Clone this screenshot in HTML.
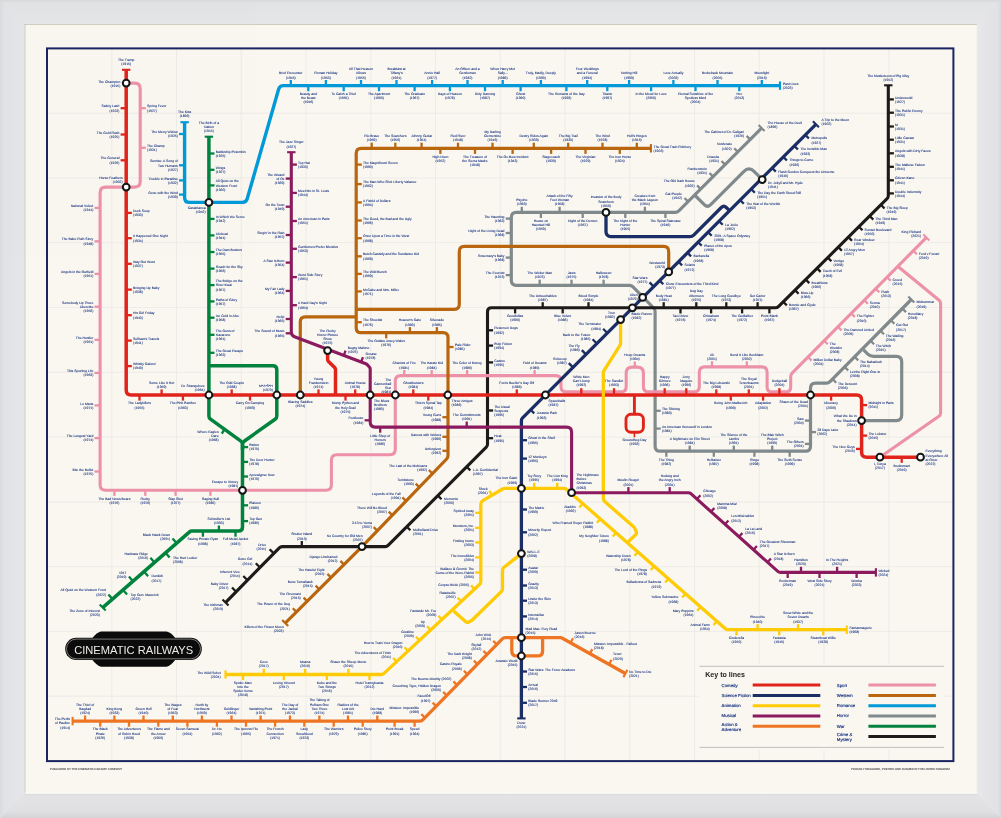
<!DOCTYPE html>
<html lang="en"><head><meta charset="utf-8"><title>Cinematic Railways</title>
<style>
html,body{margin:0;padding:0;}
body{width:1001px;height:818px;position:relative;overflow:hidden;background:#dfe1e4;font-family:"Liberation Sans",sans-serif;}
.foot{position:absolute;top:766.5px;font-size:2.85px;line-height:4px;color:#222;letter-spacing:0;white-space:nowrap;}
</style></head><body>
<svg width="1001" height="818" viewBox="0 0 1001 818" style="position:absolute;left:0;top:0;opacity:0.999;will-change:transform">
<defs><linearGradient id="ft" x1="0" y1="0" x2="0" y2="1"><stop offset="0" stop-color="#d6d7d9"/><stop offset="0.12" stop-color="#e2e3e5"/><stop offset="1" stop-color="#e5e6e8"/></linearGradient><linearGradient id="fb" x1="0" y1="0" x2="0" y2="1"><stop offset="0" stop-color="#dbdbdd"/><stop offset="0.1" stop-color="#e3e3e5"/><stop offset="0.75" stop-color="#e0e0e2"/><stop offset="1" stop-color="#d3d3d6"/></linearGradient><linearGradient id="fl" x1="0" y1="0" x2="1" y2="0"><stop offset="0" stop-color="#dadbde"/><stop offset="0.2" stop-color="#e2e3e6"/><stop offset="1" stop-color="#e5e6e9"/></linearGradient><linearGradient id="fr" x1="0" y1="0" x2="1" y2="0"><stop offset="0" stop-color="#e9e9eb"/><stop offset="0.35" stop-color="#e4e4e6"/><stop offset="0.85" stop-color="#e2e2e4"/><stop offset="1" stop-color="#dadadc"/></linearGradient></defs>
<polygon points="0,0 1001,0 976.9,24 24.5,24" fill="url(#ft)"/>
<polygon points="0,818 1001,818 976.9,793.6 24.5,793.6" fill="url(#fb)"/>
<polygon points="0,0 24.5,24 24.5,793.6 0,818" fill="url(#fl)"/>
<polygon points="1001,0 976.9,24 976.9,793.6 1001,818" fill="url(#fr)"/>
<rect x="24.5" y="24" width="952.4" height="769.6" fill="#f9f7f0"/>
<path d="M24.5 24.5H976.9" stroke="#c4bfb1" stroke-width="1" fill="none" opacity="0.8"/>
<path d="M25 24V793.6" stroke="#bdb9ae" stroke-width="1" fill="none" opacity="0.7"/>
<path d="M24.5 793.1H976.9" stroke="#fdfcf8" stroke-width="1" fill="none" opacity="0.8"/>
<path d="M111.8 48.4V761M176.5 48.4V761M241.2 48.4V761M306 48.4V761M370.8 48.4V761M435.5 48.4V761M500.2 48.4V761M565 48.4V761M629.8 48.4V761M694.5 48.4V761M759.2 48.4V761M824 48.4V761M888.8 48.4V761M47 113.2H953.5M47 178H953.5M47 242.7H953.5M47 307.5H953.5M47 372.3H953.5M47 437.1H953.5M47 501.9H953.5M47 566.7H953.5M47 631.4H953.5M47 696.2H953.5" stroke="#ebe9e3" stroke-width="0.8" fill="none"/>
<rect x="47" y="48.4" width="906.4" height="712.7" fill="none" stroke="#1b2460" stroke-width="2"/>
<g fill="none" stroke-linecap="butt" stroke-linejoin="round">
<path d="M761.6 128.1L678.8 210.9Q677.3 212.4 675.2 212.4L516.3 212.4Q511.3 212.4 511.3 217.4L511.3 280.3Q511.3 285.3 516.3 285.3L629.4 285.3Q631.5 285.3 633 286.8L653.7 308Q655.1 309.5 655.1 311.5L655.1 446.2Q655.1 451.2 660.1 451.2L805.5 451.2Q810.5 451.2 810.5 446.2L810.5 388.2Q810.5 383.2 815.5 383.2L826.4 383.2Q828.5 383.2 830 381.7L911.3 299.5" stroke="#80898c" stroke-width="3.2"/>
<path d="M694.6 195L704.3 204.7Q707.5 207.9 710.7 204.7L743.7 171.6Q749 166.3 754.3 171.6L762.1 179.4" stroke="#80898c" stroke-width="3.2"/>
<path d="M863.6 349.9L867.8 354.1Q870.1 356.4 873.4 356.4L896.2 356.4Q901.7 356.4 901.7 361.9L901.7 415.1Q901.7 420.6 896.2 420.6L861.6 420.6" stroke="#80898c" stroke-width="3.2"/>
<path d="M888.3 85.1L888.3 195.8Q888.3 197.5 887.1 198.7L778.4 306.6Q777.2 307.8 775.6 307.8L491.5 307.8Q487.5 307.8 487.5 311.8L487.5 444.3Q487.5 446 486.3 447.2L388.1 545.4Q386.9 546.6 385.2 546.6L282.2 546.6Q280.5 546.6 279.3 547.8L225.5 602.6" stroke="#1c1b1a" stroke-width="3.1"/>
<path d="M126.2 83.1L134.7 83.1Q140.2 83.1 140.2 88.6L140.2 181.6Q140.2 187.1 134.7 187.1L105.6 187.1Q100.1 187.1 100.1 192.6L100.1 484.8Q100.1 490.3 105.6 490.3L325.9 490.3Q331.4 490.3 331.4 484.8L331.4 460.2Q331.4 454.7 336.9 454.7L389.8 454.7Q395.3 454.7 395.3 449.2L395.3 381.1Q395.3 375.6 400.8 375.6L555.5 375.6Q561 375.6 561 381.1L561 386.4Q561 391.9 566.5 391.9L620.7 391.9Q626.2 391.9 626.2 386.4L626.2 373.1Q626.2 367.1 632.2 367.1L637.4 367.1Q643.4 367.1 643.4 373.1L643.4 386.4Q643.4 391.9 648.9 391.9L693.8 391.9Q699.3 391.9 699.3 386.4L699.3 372.4Q699.3 366.9 704.8 366.9L761.6 366.9Q767.1 366.9 767.1 372.4L767.1 386.9Q767.1 391.9 772.1 391.9L785.7 391.9Q790.7 391.9 790.7 386.9L790.7 376.8Q790.7 374.5 792.3 372.9L926.3 237.6" stroke="#ed91a8" stroke-width="3.1"/>
<path d="M898 266.5L939.1 300.3Q940.6 301.5 940.6 303.4L940.6 412.9Q940.6 415 938.9 416.2L879.9 457.2" stroke="#ed91a8" stroke-width="3.1"/>
<path d="M606 212.4L606 231.6Q606 236.6 611 236.6L690.1 236.6Q692.2 236.6 693.7 235.1L721.3 207.5Q723.8 205 726.3 207.5L729.5 210.7" stroke="#1b2e66" stroke-width="3.3"/>
<path d="M815.9 124.3L522.6 417.8Q521.4 419 521.4 420.7L521.4 718.4" stroke="#1b2e66" stroke-width="3.3"/>
<path d="M184.6 122L184.6 197.4Q184.6 202.4 189.6 202.4L242.4 202.4Q246.2 202.4 247.2 198.8L278.6 89.2Q279.6 85.6 283.4 85.6L780 85.6" stroke="#0099d8" stroke-width="3.4"/>
<path d="M208.9 136.5L208.9 416Q208.9 418 210.5 419.2L240.9 441.2Q242.5 442.4 242.5 444.4L242.5 527.1Q242.5 531.1 238.5 531.1L191.9 531.1Q190.4 531.1 189.3 532.1L102.7 607.6" stroke="#00833e" stroke-width="3.5"/>
<path d="M208.9 365.8L272.8 365.8Q276.8 365.8 276.8 369.8L276.8 415.9Q276.8 418 275.1 419.2L244.2 441.2Q242.5 442.4 242.5 444.5L242.5 450" stroke="#00833e" stroke-width="3.5"/>
<path d="M72.6 721.1L419.9 721.1Q421.6 721.1 422.8 719.9L502.3 638.9Q503.5 637.7 505.2 637.7L560.5 637.7Q561.5 637.7 562.4 638.2L625.4 673.5" stroke="#ee7524" stroke-width="3.3"/>
<path d="M511.8 637.7L511.8 650.9Q511.8 655.9 516.8 655.9L537.6 655.9Q542.6 655.9 542.6 650.9L542.6 637.7" stroke="#ee7524" stroke-width="3.3"/>
<path d="M650.9 148.3L361.2 148.3Q356.2 148.3 356.2 153.3L356.2 327.7Q356.2 332.7 361.2 332.7L443 332.7Q448 332.7 448 337.7L448 455.5Q448 457.5 446.6 459L362 546.6Q362 546.6 362 546.6L285.2 623.1" stroke="#b9660f" stroke-width="3.2"/>
<path d="M356.2 309.3L454.3 309.3Q459.3 309.3 459.3 304.3L459.3 251.4Q459.3 246.4 464.3 246.4L663.7 246.4Q668.7 246.4 668.7 251.4L668.7 271.9" stroke="#b9660f" stroke-width="3.2"/>
<path d="M356.2 316.8L305.3 316.8Q300.3 316.8 300.3 321.8L300.3 395" stroke="#b9660f" stroke-width="3.2"/>
<path d="M126.2 69.6L126.2 390Q126.2 395 131.2 395L856.6 395Q861.6 395 861.6 400L861.6 452.2Q861.6 457.2 866.6 457.2L920.5 457.2" stroke="#e0241c" stroke-width="3.5"/>
<path d="M327.6 350.6L327.6 359.2Q327.6 360.5 328.5 361.4L334.6 367.4Q335.5 368.3 335.5 369.6L335.5 395" stroke="#e0241c" stroke-width="3.5"/>
<path d="M634.4 395L634.4 414.3" stroke="#e0241c" stroke-width="2.9"/>
<rect x="626" y="414.3" width="17.4" height="17.9" rx="5" stroke="#e0241c" stroke-width="2.9"/>
<path d="M225.5 674.5L381.2 674.5Q382.8 674.5 384 673.4L479.5 584.5Q480.8 583.3 480.8 581.6L480.8 504.1Q480.8 501.8 482.8 500.6L502.6 489Q503.5 488.4 504.6 488.4L564 488.4Q565.5 488.4 566.6 489.4L725.4 628.7Q726.5 629.7 728 629.7L846.8 629.7" stroke="#ffcb05" stroke-width="3.3"/>
<path d="M620.6 319.5L620.6 343Q620.6 344.5 619.8 345.7L604.1 370.3Q603.3 371.5 603.3 373L603.3 498Q603.3 500.3 605 501.8L633.9 527Q634.5 527.5 634.8 528.3L636.2 531.6Q637 533.5 635.5 534.9L628.3 541.8" stroke="#ffcb05" stroke-width="3.3"/>
<path d="M521.4 553.6L504 567.3Q502.5 568.5 502.5 570.4L502.5 588.7Q502.5 590.4 501.3 591.6L472 620.2Q471.6 620.6 471.1 620.8L468.8 622Q467 623 465.5 621.6L453.6 611" stroke="#ffcb05" stroke-width="3.3"/>
<path d="M291.3 152L291.3 332Q291.3 335.5 294.5 336.7L365.8 363.7Q367 364.2 367.8 365.2L369.5 367.2Q370.2 368 370.2 369.1L370.2 422.1Q370.2 427.1 375.2 427.1L566.6 427.1Q571.6 427.1 571.6 432.1L571.6 492.7" stroke="#8b1a5e" stroke-width="3.1"/>
<path d="M571.6 492.7L688.3 492.7Q689.8 492.7 690.9 493.7L777.8 571.4Q778.9 572.4 780.4 572.4L875.9 572.4" stroke="#8b1a5e" stroke-width="3.1"/>
</g>
<g stroke-linecap="butt">
<path d="M130.4 69.8L122 69.8" stroke="#e0241c" stroke-width="2.1"/>
<path d="M188.8 122.2L180.4 122.2" stroke="#0099d8" stroke-width="2.1"/>
<path d="M780 81.4L780 89.8" stroke="#0099d8" stroke-width="2.1"/>
<path d="M213.1 136.7L204.7 136.7" stroke="#00833e" stroke-width="2.1"/>
<path d="M105.7 610.6L99.7 604.6" stroke="#00833e" stroke-width="2.1"/>
<path d="M295.5 152.2L287.1 152.2" stroke="#8b1a5e" stroke-width="2.1"/>
<path d="M875.9 568.2L875.9 576.6" stroke="#8b1a5e" stroke-width="2.1"/>
<path d="M650.9 144.1L650.9 152.5" stroke="#b9660f" stroke-width="2.1"/>
<path d="M288.2 626.1L282.2 620.1" stroke="#b9660f" stroke-width="2.1"/>
<path d="M758.6 125.1L764.6 131.1" stroke="#80898c" stroke-width="2.1"/>
<path d="M908.3 296.5L914.3 302.5" stroke="#80898c" stroke-width="2.1"/>
<path d="M812.9 121.3L818.9 127.3" stroke="#1b2e66" stroke-width="2.1"/>
<path d="M525.6 718.4L517.2 718.4" stroke="#1b2e66" stroke-width="2.1"/>
<path d="M892.5 85.3L884.1 85.3" stroke="#1c1b1a" stroke-width="2.1"/>
<path d="M228.5 605.6L222.5 599.6" stroke="#1c1b1a" stroke-width="2.1"/>
<path d="M225.5 670.3L225.5 678.7" stroke="#ffcb05" stroke-width="2.1"/>
<path d="M846.8 625.5L846.8 633.9" stroke="#ffcb05" stroke-width="2.1"/>
<path d="M72.6 716.9L72.6 725.3" stroke="#ee7524" stroke-width="2.1"/>
<path d="M627.4 669.8L623.4 677.2" stroke="#ee7524" stroke-width="2.1"/>
<path d="M923.3 234.6L929.3 240.6" stroke="#ed91a8" stroke-width="2.1"/>
<path d="M126.2 108.2L120.6 108.2" stroke="#e0241c" stroke-width="2.3"/>
<path d="M126.2 134.5L120.6 134.5" stroke="#e0241c" stroke-width="2.3"/>
<path d="M126.2 160.3L120.6 160.3" stroke="#e0241c" stroke-width="2.3"/>
<path d="M126.2 212.9L131.8 212.9" stroke="#e0241c" stroke-width="2.3"/>
<path d="M126.2 238.2L131.8 238.2" stroke="#e0241c" stroke-width="2.3"/>
<path d="M126.2 263.8L131.8 263.8" stroke="#e0241c" stroke-width="2.3"/>
<path d="M126.2 289.6L131.8 289.6" stroke="#e0241c" stroke-width="2.3"/>
<path d="M126.2 315.2L131.8 315.2" stroke="#e0241c" stroke-width="2.3"/>
<path d="M126.2 340.6L131.8 340.6" stroke="#e0241c" stroke-width="2.3"/>
<path d="M126.2 366.1L131.8 366.1" stroke="#e0241c" stroke-width="2.3"/>
<path d="M140.2 108.2L145.8 108.2" stroke="#ed91a8" stroke-width="2.3"/>
<path d="M140.2 147.8L145.8 147.8" stroke="#ed91a8" stroke-width="2.3"/>
<path d="M100.1 207.9L94.5 207.9" stroke="#ed91a8" stroke-width="2.3"/>
<path d="M100.1 241.3L94.5 241.3" stroke="#ed91a8" stroke-width="2.3"/>
<path d="M100.1 273.9L94.5 273.9" stroke="#ed91a8" stroke-width="2.3"/>
<path d="M100.1 306.7L94.5 306.7" stroke="#ed91a8" stroke-width="2.3"/>
<path d="M100.1 339.8L94.5 339.8" stroke="#ed91a8" stroke-width="2.3"/>
<path d="M100.1 372.9L94.5 372.9" stroke="#ed91a8" stroke-width="2.3"/>
<path d="M100.1 405.4L94.5 405.4" stroke="#ed91a8" stroke-width="2.3"/>
<path d="M100.1 438.1L94.5 438.1" stroke="#ed91a8" stroke-width="2.3"/>
<path d="M100.1 471.5L94.5 471.5" stroke="#ed91a8" stroke-width="2.3"/>
<path d="M114.4 490.3L114.4 495.9" stroke="#ed91a8" stroke-width="2.3"/>
<path d="M145.3 490.3L145.3 495.9" stroke="#ed91a8" stroke-width="2.3"/>
<path d="M175.6 490.3L175.6 495.9" stroke="#ed91a8" stroke-width="2.3"/>
<path d="M210.4 490.3L210.4 495.9" stroke="#ed91a8" stroke-width="2.3"/>
<path d="M404.2 375.6L404.2 370" stroke="#ed91a8" stroke-width="2.3"/>
<path d="M431.7 375.6L431.7 370" stroke="#ed91a8" stroke-width="2.3"/>
<path d="M467.1 375.6L467.1 370" stroke="#ed91a8" stroke-width="2.3"/>
<path d="M534.6 375.6L534.6 370" stroke="#ed91a8" stroke-width="2.3"/>
<path d="M184.6 134L179 134" stroke="#0099d8" stroke-width="2.3"/>
<path d="M184.6 165.3L179 165.3" stroke="#0099d8" stroke-width="2.3"/>
<path d="M184.6 180.4L179 180.4" stroke="#0099d8" stroke-width="2.3"/>
<path d="M184.6 194.6L179 194.6" stroke="#0099d8" stroke-width="2.3"/>
<path d="M290.8 85.6L290.8 80" stroke="#0099d8" stroke-width="2.3"/>
<path d="M325.9 85.6L325.9 80" stroke="#0099d8" stroke-width="2.3"/>
<path d="M361 85.6L361 80" stroke="#0099d8" stroke-width="2.3"/>
<path d="M396.5 85.6L396.5 80" stroke="#0099d8" stroke-width="2.3"/>
<path d="M432.1 85.6L432.1 80" stroke="#0099d8" stroke-width="2.3"/>
<path d="M467.5 85.6L467.5 80" stroke="#0099d8" stroke-width="2.3"/>
<path d="M502.7 85.6L502.7 80" stroke="#0099d8" stroke-width="2.3"/>
<path d="M540.9 85.6L540.9 80" stroke="#0099d8" stroke-width="2.3"/>
<path d="M587.2 85.6L587.2 80" stroke="#0099d8" stroke-width="2.3"/>
<path d="M629.1 85.6L629.1 80" stroke="#0099d8" stroke-width="2.3"/>
<path d="M673.4 85.6L673.4 80" stroke="#0099d8" stroke-width="2.3"/>
<path d="M717.5 85.6L717.5 80" stroke="#0099d8" stroke-width="2.3"/>
<path d="M761.8 85.6L761.8 80" stroke="#0099d8" stroke-width="2.3"/>
<path d="M308.3 85.6L308.3 91.2" stroke="#0099d8" stroke-width="2.3"/>
<path d="M343.7 85.6L343.7 91.2" stroke="#0099d8" stroke-width="2.3"/>
<path d="M379 85.6L379 91.2" stroke="#0099d8" stroke-width="2.3"/>
<path d="M414.6 85.6L414.6 91.2" stroke="#0099d8" stroke-width="2.3"/>
<path d="M449.9 85.6L449.9 91.2" stroke="#0099d8" stroke-width="2.3"/>
<path d="M485 85.6L485 91.2" stroke="#0099d8" stroke-width="2.3"/>
<path d="M520.6 85.6L520.6 91.2" stroke="#0099d8" stroke-width="2.3"/>
<path d="M566.4 85.6L566.4 91.2" stroke="#0099d8" stroke-width="2.3"/>
<path d="M607.3 85.6L607.3 91.2" stroke="#0099d8" stroke-width="2.3"/>
<path d="M651.1 85.6L651.1 91.2" stroke="#0099d8" stroke-width="2.3"/>
<path d="M695.5 85.6L695.5 91.2" stroke="#0099d8" stroke-width="2.3"/>
<path d="M739.3 85.6L739.3 91.2" stroke="#0099d8" stroke-width="2.3"/>
<path d="M208.9 153.5L214.5 153.5" stroke="#00833e" stroke-width="2.3"/>
<path d="M208.9 169.8L214.5 169.8" stroke="#00833e" stroke-width="2.3"/>
<path d="M208.9 185.4L214.5 185.4" stroke="#00833e" stroke-width="2.3"/>
<path d="M208.9 218.9L214.5 218.9" stroke="#00833e" stroke-width="2.3"/>
<path d="M208.9 235.4L214.5 235.4" stroke="#00833e" stroke-width="2.3"/>
<path d="M208.9 252L214.5 252" stroke="#00833e" stroke-width="2.3"/>
<path d="M208.9 268.6L214.5 268.6" stroke="#00833e" stroke-width="2.3"/>
<path d="M208.9 285.1L214.5 285.1" stroke="#00833e" stroke-width="2.3"/>
<path d="M208.9 301.4L214.5 301.4" stroke="#00833e" stroke-width="2.3"/>
<path d="M208.9 317.7L214.5 317.7" stroke="#00833e" stroke-width="2.3"/>
<path d="M208.9 334.8L214.5 334.8" stroke="#00833e" stroke-width="2.3"/>
<path d="M208.9 352.8L214.5 352.8" stroke="#00833e" stroke-width="2.3"/>
<path d="M224.4 429.3L221.8 433.7" stroke="#00833e" stroke-width="2.3"/>
<path d="M242.5 447.1L248.1 447.1" stroke="#00833e" stroke-width="2.3"/>
<path d="M242.5 461.9L248.1 461.9" stroke="#00833e" stroke-width="2.3"/>
<path d="M242.5 476.5L248.1 476.5" stroke="#00833e" stroke-width="2.3"/>
<path d="M242.5 505.3L248.1 505.3" stroke="#00833e" stroke-width="2.3"/>
<path d="M242.5 521.1L248.1 521.1" stroke="#00833e" stroke-width="2.3"/>
<path d="M218.9 531.1L218.9 525.5" stroke="#00833e" stroke-width="2.3"/>
<path d="M202.9 531.1L202.9 536.7" stroke="#00833e" stroke-width="2.3"/>
<path d="M235.5 531.1L235.5 536.7" stroke="#00833e" stroke-width="2.3"/>
<path d="M176.6 543.1L172.5 538.5" stroke="#00833e" stroke-width="2.3"/>
<path d="M154.5 562.4L150.4 557.7" stroke="#00833e" stroke-width="2.3"/>
<path d="M133 581.2L128.9 576.5" stroke="#00833e" stroke-width="2.3"/>
<path d="M112.5 599.1L108.4 594.4" stroke="#00833e" stroke-width="2.3"/>
<path d="M165.5 552.8L169.6 557.5" stroke="#00833e" stroke-width="2.3"/>
<path d="M144 571.6L148.1 576.3" stroke="#00833e" stroke-width="2.3"/>
<path d="M123 589.9L127.1 594.6" stroke="#00833e" stroke-width="2.3"/>
<path d="M291.3 164.6L296.9 164.6" stroke="#8b1a5e" stroke-width="2.3"/>
<path d="M291.3 192.9L296.9 192.9" stroke="#8b1a5e" stroke-width="2.3"/>
<path d="M291.3 221L296.9 221" stroke="#8b1a5e" stroke-width="2.3"/>
<path d="M291.3 248.8L296.9 248.8" stroke="#8b1a5e" stroke-width="2.3"/>
<path d="M291.3 277.1L296.9 277.1" stroke="#8b1a5e" stroke-width="2.3"/>
<path d="M291.3 305.2L296.9 305.2" stroke="#8b1a5e" stroke-width="2.3"/>
<path d="M291.3 178.6L285.7 178.6" stroke="#8b1a5e" stroke-width="2.3"/>
<path d="M291.3 206.7L285.7 206.7" stroke="#8b1a5e" stroke-width="2.3"/>
<path d="M291.3 235L285.7 235" stroke="#8b1a5e" stroke-width="2.3"/>
<path d="M291.3 262.6L285.7 262.6" stroke="#8b1a5e" stroke-width="2.3"/>
<path d="M291.3 290.9L285.7 290.9" stroke="#8b1a5e" stroke-width="2.3"/>
<path d="M291.3 319L285.7 319" stroke="#8b1a5e" stroke-width="2.3"/>
<path d="M291.3 333.3L285.7 333.3" stroke="#8b1a5e" stroke-width="2.3"/>
<path d="M343.8 355.5L345.5 350.7" stroke="#8b1a5e" stroke-width="2.3"/>
<path d="M361.2 362L362.9 357.2" stroke="#8b1a5e" stroke-width="2.3"/>
<path d="M370.2 420.3L364.6 420.3" stroke="#8b1a5e" stroke-width="2.3"/>
<path d="M380.2 427.1L380.2 432.7" stroke="#8b1a5e" stroke-width="2.3"/>
<path d="M466.7 427.1L466.7 421.5" stroke="#8b1a5e" stroke-width="2.3"/>
<path d="M628.4 492.7L628.4 487.1" stroke="#8b1a5e" stroke-width="2.3"/>
<path d="M669.7 492.7L669.7 487.1" stroke="#8b1a5e" stroke-width="2.3"/>
<path d="M697 499.1L700.4 495.3" stroke="#8b1a5e" stroke-width="2.3"/>
<path d="M711 511.7L714.4 507.9" stroke="#8b1a5e" stroke-width="2.3"/>
<path d="M725 524.2L728.4 520.4" stroke="#8b1a5e" stroke-width="2.3"/>
<path d="M739 536.7L742.4 532.9" stroke="#8b1a5e" stroke-width="2.3"/>
<path d="M753.5 549.7L756.9 545.9" stroke="#8b1a5e" stroke-width="2.3"/>
<path d="M767.5 562.2L770.9 558.4" stroke="#8b1a5e" stroke-width="2.3"/>
<path d="M801 572.4L801 566.8" stroke="#8b1a5e" stroke-width="2.3"/>
<path d="M837.1 572.4L837.1 566.8" stroke="#8b1a5e" stroke-width="2.3"/>
<path d="M787.7 572.4L787.7 578" stroke="#8b1a5e" stroke-width="2.3"/>
<path d="M819.5 572.4L819.5 578" stroke="#8b1a5e" stroke-width="2.3"/>
<path d="M856.6 572.4L856.6 578" stroke="#8b1a5e" stroke-width="2.3"/>
<path d="M371.7 148.3L371.7 142.7" stroke="#b9660f" stroke-width="2.3"/>
<path d="M395.3 148.3L395.3 142.7" stroke="#b9660f" stroke-width="2.3"/>
<path d="M421.6 148.3L421.6 142.7" stroke="#b9660f" stroke-width="2.3"/>
<path d="M458 148.3L458 142.7" stroke="#b9660f" stroke-width="2.3"/>
<path d="M492.5 148.3L492.5 142.7" stroke="#b9660f" stroke-width="2.3"/>
<path d="M533.8 148.3L533.8 142.7" stroke="#b9660f" stroke-width="2.3"/>
<path d="M568.2 148.3L568.2 142.7" stroke="#b9660f" stroke-width="2.3"/>
<path d="M602.5 148.3L602.5 142.7" stroke="#b9660f" stroke-width="2.3"/>
<path d="M636.8 148.3L636.8 142.7" stroke="#b9660f" stroke-width="2.3"/>
<path d="M440.4 148.3L440.4 153.9" stroke="#b9660f" stroke-width="2.3"/>
<path d="M475 148.3L475 153.9" stroke="#b9660f" stroke-width="2.3"/>
<path d="M512.6 148.3L512.6 153.9" stroke="#b9660f" stroke-width="2.3"/>
<path d="M551.1 148.3L551.1 153.9" stroke="#b9660f" stroke-width="2.3"/>
<path d="M585.5 148.3L585.5 153.9" stroke="#b9660f" stroke-width="2.3"/>
<path d="M619.8 148.3L619.8 153.9" stroke="#b9660f" stroke-width="2.3"/>
<path d="M356.2 164.6L361.8 164.6" stroke="#b9660f" stroke-width="2.3"/>
<path d="M356.2 184.1L361.8 184.1" stroke="#b9660f" stroke-width="2.3"/>
<path d="M356.2 202.4L361.8 202.4" stroke="#b9660f" stroke-width="2.3"/>
<path d="M356.2 220.5L361.8 220.5" stroke="#b9660f" stroke-width="2.3"/>
<path d="M356.2 238.2L361.8 238.2" stroke="#b9660f" stroke-width="2.3"/>
<path d="M356.2 256.3L361.8 256.3" stroke="#b9660f" stroke-width="2.3"/>
<path d="M356.2 273.9L361.8 273.9" stroke="#b9660f" stroke-width="2.3"/>
<path d="M356.2 291.4L361.8 291.4" stroke="#b9660f" stroke-width="2.3"/>
<path d="M356.2 322.2L361.8 322.2" stroke="#b9660f" stroke-width="2.3"/>
<path d="M409.9 332.7L409.9 327.1" stroke="#b9660f" stroke-width="2.3"/>
<path d="M436.9 332.7L436.9 327.1" stroke="#b9660f" stroke-width="2.3"/>
<path d="M386.2 332.7L386.2 338.3" stroke="#b9660f" stroke-width="2.3"/>
<path d="M448 347L453.6 347" stroke="#b9660f" stroke-width="2.3"/>
<path d="M448 417.2L442.4 417.2" stroke="#b9660f" stroke-width="2.3"/>
<path d="M448 436.8L442.4 436.8" stroke="#b9660f" stroke-width="2.3"/>
<path d="M448 450.8L442.4 450.8" stroke="#b9660f" stroke-width="2.3"/>
<path d="M432.5 473.6L428.9 470" stroke="#b9660f" stroke-width="2.3"/>
<path d="M419.3 487.2L415.7 483.6" stroke="#b9660f" stroke-width="2.3"/>
<path d="M406 501L402.4 497.4" stroke="#b9660f" stroke-width="2.3"/>
<path d="M392.3 515.2L388.7 511.6" stroke="#b9660f" stroke-width="2.3"/>
<path d="M377.3 530.7L373.7 527.1" stroke="#b9660f" stroke-width="2.3"/>
<path d="M344 564.5L340.4 560.9" stroke="#b9660f" stroke-width="2.3"/>
<path d="M331 577.5L327.4 573.9" stroke="#b9660f" stroke-width="2.3"/>
<path d="M319.2 589.2L315.6 585.6" stroke="#b9660f" stroke-width="2.3"/>
<path d="M307.2 601.2L303.6 597.6" stroke="#b9660f" stroke-width="2.3"/>
<path d="M296.4 611.9L292.8 608.3" stroke="#b9660f" stroke-width="2.3"/>
<path d="M750.2 139.5L746.6 135.9" stroke="#80898c" stroke-width="2.3"/>
<path d="M737.8 151.9L734.2 148.3" stroke="#80898c" stroke-width="2.3"/>
<path d="M725.1 164.6L721.5 161" stroke="#80898c" stroke-width="2.3"/>
<path d="M713.1 176.6L709.5 173" stroke="#80898c" stroke-width="2.3"/>
<path d="M700.7 189L697.1 185.4" stroke="#80898c" stroke-width="2.3"/>
<path d="M688.1 201.6L684.5 198" stroke="#80898c" stroke-width="2.3"/>
<path d="M521.8 212.4L521.8 206.8" stroke="#80898c" stroke-width="2.3"/>
<path d="M559.6 212.4L559.6 206.8" stroke="#80898c" stroke-width="2.3"/>
<path d="M644.9 212.4L644.9 206.8" stroke="#80898c" stroke-width="2.3"/>
<path d="M540.9 212.4L540.9 218" stroke="#80898c" stroke-width="2.3"/>
<path d="M582.7 212.4L582.7 218" stroke="#80898c" stroke-width="2.3"/>
<path d="M625.3 212.4L625.3 218" stroke="#80898c" stroke-width="2.3"/>
<path d="M665.4 212.4L665.4 218" stroke="#80898c" stroke-width="2.3"/>
<path d="M511.3 218.6L505.7 218.6" stroke="#80898c" stroke-width="2.3"/>
<path d="M511.3 233L505.7 233" stroke="#80898c" stroke-width="2.3"/>
<path d="M511.3 257.6L505.7 257.6" stroke="#80898c" stroke-width="2.3"/>
<path d="M511.3 275.1L505.7 275.1" stroke="#80898c" stroke-width="2.3"/>
<path d="M539.7 285.3L539.7 279.7" stroke="#80898c" stroke-width="2.3"/>
<path d="M571.5 285.3L571.5 279.7" stroke="#80898c" stroke-width="2.3"/>
<path d="M603.6 285.3L603.6 279.7" stroke="#80898c" stroke-width="2.3"/>
<path d="M655.1 410.8L660.7 410.8" stroke="#80898c" stroke-width="2.3"/>
<path d="M655.1 428.6L660.7 428.6" stroke="#80898c" stroke-width="2.3"/>
<path d="M689.7 451.2L689.7 445.6" stroke="#80898c" stroke-width="2.3"/>
<path d="M733.8 451.2L733.8 445.6" stroke="#80898c" stroke-width="2.3"/>
<path d="M772.2 451.2L772.2 445.6" stroke="#80898c" stroke-width="2.3"/>
<path d="M666.3 451.2L666.3 456.8" stroke="#80898c" stroke-width="2.3"/>
<path d="M713.8 451.2L713.8 456.8" stroke="#80898c" stroke-width="2.3"/>
<path d="M754.4 451.2L754.4 456.8" stroke="#80898c" stroke-width="2.3"/>
<path d="M789.7 451.2L789.7 456.8" stroke="#80898c" stroke-width="2.3"/>
<path d="M810.5 443.9L804.9 443.9" stroke="#80898c" stroke-width="2.3"/>
<path d="M810.5 420.6L804.9 420.6" stroke="#80898c" stroke-width="2.3"/>
<path d="M810.5 432.1L816.1 432.1" stroke="#80898c" stroke-width="2.3"/>
<path d="M832.6 379.1L836.2 382.7" stroke="#80898c" stroke-width="2.3"/>
<path d="M844.6 366.9L848.2 370.5" stroke="#80898c" stroke-width="2.3"/>
<path d="M854.6 356.8L858.2 360.4" stroke="#80898c" stroke-width="2.3"/>
<path d="M870.5 340.7L874.1 344.3" stroke="#80898c" stroke-width="2.3"/>
<path d="M880.4 330.7L884 334.3" stroke="#80898c" stroke-width="2.3"/>
<path d="M890.8 320.2L894.4 323.8" stroke="#80898c" stroke-width="2.3"/>
<path d="M902.4 308.5L906 312.1" stroke="#80898c" stroke-width="2.3"/>
<path d="M805.3 134.9L808.9 138.5" stroke="#1b2e66" stroke-width="2.3"/>
<path d="M794.3 145.9L797.9 149.5" stroke="#1b2e66" stroke-width="2.3"/>
<path d="M783.3 156.9L786.9 160.5" stroke="#1b2e66" stroke-width="2.3"/>
<path d="M772.2 168L775.8 171.6" stroke="#1b2e66" stroke-width="2.3"/>
<path d="M751.2 189L754.8 192.7" stroke="#1b2e66" stroke-width="2.3"/>
<path d="M740.2 200.1L743.8 203.7" stroke="#1b2e66" stroke-width="2.3"/>
<path d="M719.1 221.2L722.7 224.8" stroke="#1b2e66" stroke-width="2.3"/>
<path d="M708.1 232.2L711.7 235.8" stroke="#1b2e66" stroke-width="2.3"/>
<path d="M698.1 242.2L701.7 245.8" stroke="#1b2e66" stroke-width="2.3"/>
<path d="M687.5 252.8L691.1 256.4" stroke="#1b2e66" stroke-width="2.3"/>
<path d="M678.5 261.8L682.1 265.4" stroke="#1b2e66" stroke-width="2.3"/>
<path d="M659.7 280.6L663.3 284.2" stroke="#1b2e66" stroke-width="2.3"/>
<path d="M530.6 409.8L534.2 413.4" stroke="#1b2e66" stroke-width="2.3"/>
<path d="M653.7 286.6L649.5 282.4" stroke="#1b2e66" stroke-width="2.3"/>
<path d="M607.3 333L603.1 328.8" stroke="#1b2e66" stroke-width="2.3"/>
<path d="M596.8 343.5L592.6 339.3" stroke="#1b2e66" stroke-width="2.3"/>
<path d="M586 354.4L581.8 350.1" stroke="#1b2e66" stroke-width="2.3"/>
<path d="M573 367.4L568.8 363.1" stroke="#1b2e66" stroke-width="2.3"/>
<path d="M521.4 440.2L527 440.2" stroke="#1b2e66" stroke-width="2.3"/>
<path d="M521.4 458.6L527 458.6" stroke="#1b2e66" stroke-width="2.3"/>
<path d="M521.4 509.5L527 509.5" stroke="#1b2e66" stroke-width="2.3"/>
<path d="M521.4 532.3L527 532.3" stroke="#1b2e66" stroke-width="2.3"/>
<path d="M521.4 569.7L527 569.7" stroke="#1b2e66" stroke-width="2.3"/>
<path d="M521.4 585.5L527 585.5" stroke="#1b2e66" stroke-width="2.3"/>
<path d="M521.4 600.7L527 600.7" stroke="#1b2e66" stroke-width="2.3"/>
<path d="M521.4 616.4L527 616.4" stroke="#1b2e66" stroke-width="2.3"/>
<path d="M521.4 671.5L527 671.5" stroke="#1b2e66" stroke-width="2.3"/>
<path d="M521.4 687L527 687" stroke="#1b2e66" stroke-width="2.3"/>
<path d="M521.4 702.8L527 702.8" stroke="#1b2e66" stroke-width="2.3"/>
<path d="M888.3 99.4L893.9 99.4" stroke="#1c1b1a" stroke-width="2.3"/>
<path d="M888.3 112.7L893.9 112.7" stroke="#1c1b1a" stroke-width="2.3"/>
<path d="M888.3 126.5L893.9 126.5" stroke="#1c1b1a" stroke-width="2.3"/>
<path d="M888.3 139.7L893.9 139.7" stroke="#1c1b1a" stroke-width="2.3"/>
<path d="M888.3 153.3L893.9 153.3" stroke="#1c1b1a" stroke-width="2.3"/>
<path d="M888.3 166.8L893.9 166.8" stroke="#1c1b1a" stroke-width="2.3"/>
<path d="M888.3 180.3L893.9 180.3" stroke="#1c1b1a" stroke-width="2.3"/>
<path d="M888.3 193.4L893.9 193.4" stroke="#1c1b1a" stroke-width="2.3"/>
<path d="M880.9 204.8L884.5 208.5" stroke="#1c1b1a" stroke-width="2.3"/>
<path d="M869.7 216L873.3 219.6" stroke="#1c1b1a" stroke-width="2.3"/>
<path d="M858.9 226.7L862.5 230.3" stroke="#1c1b1a" stroke-width="2.3"/>
<path d="M848.4 237.1L852 240.7" stroke="#1c1b1a" stroke-width="2.3"/>
<path d="M838.3 247.1L841.9 250.7" stroke="#1c1b1a" stroke-width="2.3"/>
<path d="M827.8 257.6L831.4 261.2" stroke="#1c1b1a" stroke-width="2.3"/>
<path d="M817 268.3L820.6 271.9" stroke="#1c1b1a" stroke-width="2.3"/>
<path d="M805.7 279.5L809.3 283.1" stroke="#1c1b1a" stroke-width="2.3"/>
<path d="M795 290.1L798.6 293.7" stroke="#1c1b1a" stroke-width="2.3"/>
<path d="M783.2 301.8L786.8 305.4" stroke="#1c1b1a" stroke-width="2.3"/>
<path d="M542.7 307.8L542.7 302.2" stroke="#1c1b1a" stroke-width="2.3"/>
<path d="M588.5 307.8L588.5 302.2" stroke="#1c1b1a" stroke-width="2.3"/>
<path d="M663.7 307.8L663.7 302.2" stroke="#1c1b1a" stroke-width="2.3"/>
<path d="M696.3 307.8L696.3 302.2" stroke="#1c1b1a" stroke-width="2.3"/>
<path d="M726.3 307.8L726.3 302.2" stroke="#1c1b1a" stroke-width="2.3"/>
<path d="M757.6 307.8L757.6 302.2" stroke="#1c1b1a" stroke-width="2.3"/>
<path d="M515.1 307.8L515.1 313.4" stroke="#1c1b1a" stroke-width="2.3"/>
<path d="M562.7 307.8L562.7 313.4" stroke="#1c1b1a" stroke-width="2.3"/>
<path d="M680.5 307.8L680.5 313.4" stroke="#1c1b1a" stroke-width="2.3"/>
<path d="M711.1 307.8L711.1 313.4" stroke="#1c1b1a" stroke-width="2.3"/>
<path d="M742.1 307.8L742.1 313.4" stroke="#1c1b1a" stroke-width="2.3"/>
<path d="M769.4 307.8L769.4 313.4" stroke="#1c1b1a" stroke-width="2.3"/>
<path d="M487.5 330.3L493.1 330.3" stroke="#1c1b1a" stroke-width="2.3"/>
<path d="M487.5 345.6L493.1 345.6" stroke="#1c1b1a" stroke-width="2.3"/>
<path d="M487.5 362.4L493.1 362.4" stroke="#1c1b1a" stroke-width="2.3"/>
<path d="M487.5 410.5L493.1 410.5" stroke="#1c1b1a" stroke-width="2.3"/>
<path d="M487.5 438.2L493.1 438.2" stroke="#1c1b1a" stroke-width="2.3"/>
<path d="M466.7 466.8L470.3 470.4" stroke="#1c1b1a" stroke-width="2.3"/>
<path d="M437.9 495.6L441.5 499.2" stroke="#1c1b1a" stroke-width="2.3"/>
<path d="M406.8 526.7L410.4 530.3" stroke="#1c1b1a" stroke-width="2.3"/>
<path d="M301.8 546.6L301.8 541" stroke="#1c1b1a" stroke-width="2.3"/>
<path d="M273.8 553.4L269.6 549.2" stroke="#1c1b1a" stroke-width="2.3"/>
<path d="M260 567.5L255.8 563.2" stroke="#1c1b1a" stroke-width="2.3"/>
<path d="M247.5 580.2L243.3 576" stroke="#1c1b1a" stroke-width="2.3"/>
<path d="M236.2 591.7L232 587.5" stroke="#1c1b1a" stroke-width="2.3"/>
<path d="M263.8 674.5L263.8 668.9" stroke="#ffcb05" stroke-width="2.3"/>
<path d="M305.1 674.5L305.1 668.9" stroke="#ffcb05" stroke-width="2.3"/>
<path d="M348.4 674.5L348.4 668.9" stroke="#ffcb05" stroke-width="2.3"/>
<path d="M243 674.5L243 680.1" stroke="#ffcb05" stroke-width="2.3"/>
<path d="M283.8 674.5L283.8 680.1" stroke="#ffcb05" stroke-width="2.3"/>
<path d="M326.9 674.5L326.9 680.1" stroke="#ffcb05" stroke-width="2.3"/>
<path d="M369.5 674.5L369.5 680.1" stroke="#ffcb05" stroke-width="2.3"/>
<path d="M396.6 661.7L393.1 657.9" stroke="#ffcb05" stroke-width="2.3"/>
<path d="M408.1 651L404.6 647.2" stroke="#ffcb05" stroke-width="2.3"/>
<path d="M419.4 640.4L415.9 636.7" stroke="#ffcb05" stroke-width="2.3"/>
<path d="M430.6 630L427.1 626.3" stroke="#ffcb05" stroke-width="2.3"/>
<path d="M441.9 619.5L438.4 615.8" stroke="#ffcb05" stroke-width="2.3"/>
<path d="M461.2 601.5L457.7 597.8" stroke="#ffcb05" stroke-width="2.3"/>
<path d="M474.5 589.2L471 585.4" stroke="#ffcb05" stroke-width="2.3"/>
<path d="M480.8 512.8L475.2 512.8" stroke="#ffcb05" stroke-width="2.3"/>
<path d="M480.8 527.8L475.2 527.8" stroke="#ffcb05" stroke-width="2.3"/>
<path d="M480.8 542.4L475.2 542.4" stroke="#ffcb05" stroke-width="2.3"/>
<path d="M480.8 557.4L475.2 557.4" stroke="#ffcb05" stroke-width="2.3"/>
<path d="M480.8 572.5L475.2 572.5" stroke="#ffcb05" stroke-width="2.3"/>
<path d="M492 495.2L489.4 490.8" stroke="#ffcb05" stroke-width="2.3"/>
<path d="M534.2 488.4L534.2 482.8" stroke="#ffcb05" stroke-width="2.3"/>
<path d="M557.2 488.4L557.2 482.8" stroke="#ffcb05" stroke-width="2.3"/>
<path d="M582.8 503.6L579.4 507.4" stroke="#ffcb05" stroke-width="2.3"/>
<path d="M600.3 518.9L596.9 522.8" stroke="#ffcb05" stroke-width="2.3"/>
<path d="M616.1 532.8L612.7 536.6" stroke="#ffcb05" stroke-width="2.3"/>
<path d="M637.9 551.9L634.5 555.8" stroke="#ffcb05" stroke-width="2.3"/>
<path d="M654.2 566.2L650.8 570.1" stroke="#ffcb05" stroke-width="2.3"/>
<path d="M668.5 578.8L665.1 582.6" stroke="#ffcb05" stroke-width="2.3"/>
<path d="M685.5 593.7L682.1 597.6" stroke="#ffcb05" stroke-width="2.3"/>
<path d="M700.6 607L697.2 610.8" stroke="#ffcb05" stroke-width="2.3"/>
<path d="M716.9 621.3L713.5 625.1" stroke="#ffcb05" stroke-width="2.3"/>
<path d="M757.6 629.7L757.6 624.1" stroke="#ffcb05" stroke-width="2.3"/>
<path d="M798.1 629.7L798.1 624.1" stroke="#ffcb05" stroke-width="2.3"/>
<path d="M736.5 629.7L736.5 635.3" stroke="#ffcb05" stroke-width="2.3"/>
<path d="M779.2 629.7L779.2 635.3" stroke="#ffcb05" stroke-width="2.3"/>
<path d="M823.2 629.7L823.2 635.3" stroke="#ffcb05" stroke-width="2.3"/>
<path d="M85.1 721.1L85.1 715.5" stroke="#ee7524" stroke-width="2.3"/>
<path d="M114.4 721.1L114.4 715.5" stroke="#ee7524" stroke-width="2.3"/>
<path d="M143.5 721.1L143.5 715.5" stroke="#ee7524" stroke-width="2.3"/>
<path d="M172.8 721.1L172.8 715.5" stroke="#ee7524" stroke-width="2.3"/>
<path d="M201.9 721.1L201.9 715.5" stroke="#ee7524" stroke-width="2.3"/>
<path d="M231.5 721.1L231.5 715.5" stroke="#ee7524" stroke-width="2.3"/>
<path d="M260.6 721.1L260.6 715.5" stroke="#ee7524" stroke-width="2.3"/>
<path d="M290 721.1L290 715.5" stroke="#ee7524" stroke-width="2.3"/>
<path d="M319.4 721.1L319.4 715.5" stroke="#ee7524" stroke-width="2.3"/>
<path d="M348 721.1L348 715.5" stroke="#ee7524" stroke-width="2.3"/>
<path d="M377.3 721.1L377.3 715.5" stroke="#ee7524" stroke-width="2.3"/>
<path d="M100.2 721.1L100.2 726.7" stroke="#ee7524" stroke-width="2.3"/>
<path d="M129 721.1L129 726.7" stroke="#ee7524" stroke-width="2.3"/>
<path d="M158.3 721.1L158.3 726.7" stroke="#ee7524" stroke-width="2.3"/>
<path d="M187.4 721.1L187.4 726.7" stroke="#ee7524" stroke-width="2.3"/>
<path d="M216.9 721.1L216.9 726.7" stroke="#ee7524" stroke-width="2.3"/>
<path d="M246 721.1L246 726.7" stroke="#ee7524" stroke-width="2.3"/>
<path d="M275.1 721.1L275.1 726.7" stroke="#ee7524" stroke-width="2.3"/>
<path d="M304.3 721.1L304.3 726.7" stroke="#ee7524" stroke-width="2.3"/>
<path d="M333.7 721.1L333.7 726.7" stroke="#ee7524" stroke-width="2.3"/>
<path d="M362.7 721.1L362.7 726.7" stroke="#ee7524" stroke-width="2.3"/>
<path d="M394.6 721.1L394.6 726.7" stroke="#ee7524" stroke-width="2.3"/>
<path d="M414.6 721.1L414.6 726.7" stroke="#ee7524" stroke-width="2.3"/>
<path d="M424.9 717.7L421.3 714.1" stroke="#ee7524" stroke-width="2.3"/>
<path d="M436.2 706.2L432.6 702.6" stroke="#ee7524" stroke-width="2.3"/>
<path d="M446.7 695.5L443.1 691.9" stroke="#ee7524" stroke-width="2.3"/>
<path d="M457 685.1L453.4 681.4" stroke="#ee7524" stroke-width="2.3"/>
<path d="M467.5 674.4L463.9 670.8" stroke="#ee7524" stroke-width="2.3"/>
<path d="M477.5 664.2L473.9 660.6" stroke="#ee7524" stroke-width="2.3"/>
<path d="M487 654.5L483.4 650.9" stroke="#ee7524" stroke-width="2.3"/>
<path d="M496.8 644.5L493.2 640.9" stroke="#ee7524" stroke-width="2.3"/>
<path d="M570.5 642.7L573 638.3" stroke="#ee7524" stroke-width="2.3"/>
<path d="M589.8 653.6L592.3 649.1" stroke="#ee7524" stroke-width="2.3"/>
<path d="M609 664.3L611.5 659.9" stroke="#ee7524" stroke-width="2.3"/>
<path d="M139.5 395L139.5 400.6" stroke="#e0241c" stroke-width="2.3"/>
<path d="M182.9 395L182.9 400.6" stroke="#e0241c" stroke-width="2.3"/>
<path d="M250 395L250 400.6" stroke="#e0241c" stroke-width="2.3"/>
<path d="M345.5 395L345.5 400.6" stroke="#e0241c" stroke-width="2.3"/>
<path d="M428.3 395L428.3 400.6" stroke="#e0241c" stroke-width="2.3"/>
<path d="M730.8 395L730.8 400.6" stroke="#e0241c" stroke-width="2.3"/>
<path d="M763.1 395L763.1 400.6" stroke="#e0241c" stroke-width="2.3"/>
<path d="M831.1 395L831.1 400.6" stroke="#e0241c" stroke-width="2.3"/>
<path d="M161.6 395L161.6 389.4" stroke="#e0241c" stroke-width="2.3"/>
<path d="M231.7 395L231.7 389.4" stroke="#e0241c" stroke-width="2.3"/>
<path d="M318.5 395L318.5 389.4" stroke="#e0241c" stroke-width="2.3"/>
<path d="M355.2 395L355.2 389.4" stroke="#e0241c" stroke-width="2.3"/>
<path d="M413.3 395L413.3 389.4" stroke="#e0241c" stroke-width="2.3"/>
<path d="M516.8 395L516.8 389.4" stroke="#e0241c" stroke-width="2.3"/>
<path d="M716.3 395L716.3 389.4" stroke="#e0241c" stroke-width="2.3"/>
<path d="M748.8 395L748.8 389.4" stroke="#e0241c" stroke-width="2.3"/>
<path d="M581.3 395L581.3 388.2" stroke="#e0241c" stroke-width="2.3"/>
<path d="M614 395L614 388.2" stroke="#e0241c" stroke-width="2.3"/>
<path d="M664.7 395L664.7 388.2" stroke="#e0241c" stroke-width="2.3"/>
<path d="M686.3 395L686.3 388.2" stroke="#e0241c" stroke-width="2.3"/>
<path d="M779.4 395L779.4 388.2" stroke="#e0241c" stroke-width="2.3"/>
<path d="M634.8 367.1L634.8 361.5" stroke="#ed91a8" stroke-width="2.3"/>
<path d="M712 366.9L712 361.3" stroke="#ed91a8" stroke-width="2.3"/>
<path d="M746.8 366.9L746.8 361.3" stroke="#ed91a8" stroke-width="2.3"/>
<path d="M634.4 432.2L634.4 437.3" stroke="#e0241c" stroke-width="1.6"/>
<path d="M861.6 405.1L867.2 405.1" stroke="#e0241c" stroke-width="2.3"/>
<path d="M861.6 435.6L867.2 435.6" stroke="#e0241c" stroke-width="2.3"/>
<path d="M861.6 448.9L856 448.9" stroke="#e0241c" stroke-width="2.3"/>
<path d="M901.7 457.2L901.7 462.8" stroke="#e0241c" stroke-width="2.3"/>
<path d="M808 357L811.6 360.6" stroke="#ed91a8" stroke-width="2.3"/>
<path d="M824.2 340.7L827.8 344.3" stroke="#ed91a8" stroke-width="2.3"/>
<path d="M838 326.7L841.6 330.4" stroke="#ed91a8" stroke-width="2.3"/>
<path d="M851.2 313.4L854.8 317" stroke="#ed91a8" stroke-width="2.3"/>
<path d="M864.3 300.2L867.9 303.8" stroke="#ed91a8" stroke-width="2.3"/>
<path d="M875.7 288.7L879.3 292.3" stroke="#ed91a8" stroke-width="2.3"/>
<path d="M887.1 277.2L890.7 280.8" stroke="#ed91a8" stroke-width="2.3"/>
<path d="M913.3 250.7L916.9 254.3" stroke="#ed91a8" stroke-width="2.3"/>
</g>
<g fill="#fff" stroke="#151515" stroke-width="2">
<circle cx="126.2" cy="83.1" r="3.4"/>
<circle cx="126.2" cy="187.1" r="3.4"/>
<circle cx="208.9" cy="202.4" r="3.4"/>
<circle cx="208.9" cy="395" r="3.4"/>
<circle cx="276.8" cy="395" r="3.4"/>
<circle cx="300.3" cy="395" r="3.4"/>
<circle cx="370.2" cy="395" r="3.4"/>
<circle cx="395.3" cy="395" r="3.4"/>
<circle cx="447.8" cy="395" r="3.4"/>
<circle cx="545.4" cy="395" r="3.4"/>
<circle cx="810.5" cy="395" r="3.4"/>
<circle cx="861.6" cy="420.6" r="3.4"/>
<circle cx="879.9" cy="457.2" r="3.4"/>
<circle cx="920.5" cy="457.2" r="3.4"/>
<circle cx="327.6" cy="350.6" r="3.4"/>
<circle cx="606" cy="212.4" r="3.4"/>
<circle cx="762.2" cy="179.6" r="3.4"/>
<circle cx="668.7" cy="271.9" r="3.4"/>
<circle cx="642.6" cy="297.4" r="3.4"/>
<circle cx="632.4" cy="307.8" r="3.4"/>
<circle cx="620.6" cy="319.6" r="3.4"/>
<circle cx="242.5" cy="490.3" r="3.4"/>
<circle cx="362" cy="546.6" r="3.4"/>
<circle cx="521.4" cy="488.4" r="3.4"/>
<circle cx="571.6" cy="492.7" r="3.4"/>
<circle cx="521.4" cy="553.6" r="3.4"/>
<circle cx="521.4" cy="637.7" r="3.4"/>
<circle cx="521.4" cy="656" r="3.4"/>
</g>
<g font-family="'Liberation Sans', sans-serif" font-size="3.4" fill="#1a3482" stroke="#1a3482" stroke-width="0.08" text-rendering="geometricPrecision">
<text x="126.2" y="60.7" text-anchor="middle">The Tramp</text>
<text x="126.2" y="64.9" text-anchor="middle">(1915)</text>
<text x="120.4" y="82.5" text-anchor="end">The Champion</text>
<text x="120.4" y="86.7" text-anchor="end">(1915)</text>
<text x="119.4" y="107.3" text-anchor="end">Safety Last!</text>
<text x="119.4" y="111.5" text-anchor="end">(1923)</text>
<text x="119.4" y="133.6" text-anchor="end">The Gold Rush</text>
<text x="119.4" y="137.8" text-anchor="end">(1925)</text>
<text x="119.4" y="159.4" text-anchor="end">The General</text>
<text x="119.4" y="163.6" text-anchor="end">(1926)</text>
<text x="122.6" y="178.5" text-anchor="end">Horse Feathers</text>
<text x="122.6" y="182.7" text-anchor="end">(1932)</text>
<text x="133" y="212">Duck Soup</text>
<text x="133" y="216.2">(1933)</text>
<text x="133" y="237.3">It Happened One Night</text>
<text x="133" y="241.5">(1934)</text>
<text x="133" y="262.9">Way Out West</text>
<text x="133" y="267.1">(1937)</text>
<text x="133" y="288.7">Bringing Up Baby</text>
<text x="133" y="292.9">(1938)</text>
<text x="133" y="314.3">His Girl Friday</text>
<text x="133" y="318.5">(1940)</text>
<text x="133" y="339.7">Sullivan&#x27;s Travels</text>
<text x="133" y="343.9">(1941)</text>
<text x="133" y="365.2">Whisky Galore!</text>
<text x="133" y="369.4">(1949)</text>
<text x="147" y="107.3">Spring Fever</text>
<text x="147" y="111.5">(1927)</text>
<text x="147" y="146.9">The Champ</text>
<text x="147" y="151.1">(1931)</text>
<text x="93.3" y="207" text-anchor="end">National Velvet</text>
<text x="93.3" y="211.2" text-anchor="end">(1944)</text>
<text x="93.3" y="240.4" text-anchor="end">The Babe Ruth Story</text>
<text x="93.3" y="244.6" text-anchor="end">(1948)</text>
<text x="93.3" y="273" text-anchor="end">Angels in the Outfield</text>
<text x="93.3" y="277.2" text-anchor="end">(1951)</text>
<text x="93.3" y="303.7" text-anchor="end">Somebody Up There</text>
<text x="93.3" y="307.9" text-anchor="end">Likes Me</text>
<text x="93.3" y="312.1" text-anchor="end">(1956)</text>
<text x="93.3" y="338.9" text-anchor="end">The Hustler</text>
<text x="93.3" y="343.1" text-anchor="end">(1961)</text>
<text x="93.3" y="372" text-anchor="end">This Sporting Life</text>
<text x="93.3" y="376.2" text-anchor="end">(1963)</text>
<text x="93.3" y="404.5" text-anchor="end">Le Mans</text>
<text x="93.3" y="408.7" text-anchor="end">(1971)</text>
<text x="93.3" y="437.2" text-anchor="end">The Longest Yard</text>
<text x="93.3" y="441.4" text-anchor="end">(1974)</text>
<text x="93.3" y="470.6" text-anchor="end">Bite the Bullet</text>
<text x="93.3" y="474.8" text-anchor="end">(1975)</text>
<text x="114.4" y="499.7" text-anchor="middle">The Bad News Bears</text>
<text x="114.4" y="503.9" text-anchor="middle">(1976)</text>
<text x="145.3" y="499.7" text-anchor="middle">Rocky</text>
<text x="145.3" y="503.9" text-anchor="middle">(1976)</text>
<text x="175.6" y="499.7" text-anchor="middle">Slap Shot</text>
<text x="175.6" y="503.9" text-anchor="middle">(1977)</text>
<text x="210.4" y="499.7" text-anchor="middle">Raging Bull</text>
<text x="210.4" y="503.9" text-anchor="middle">(1980)</text>
<text x="238.2" y="482.7" text-anchor="end">Escape to Victory</text>
<text x="238.2" y="486.9" text-anchor="end">(1981)</text>
<text x="404.2" y="364.3" text-anchor="middle">Chariots of Fire</text>
<text x="404.2" y="368.5" text-anchor="middle">(1981)</text>
<text x="431.7" y="364.3" text-anchor="middle">The Karate Kid</text>
<text x="431.7" y="368.5" text-anchor="middle">(1984)</text>
<text x="467.1" y="364.3" text-anchor="middle">The Color of Money</text>
<text x="467.1" y="368.5" text-anchor="middle">(1986)</text>
<text x="534.6" y="364.3" text-anchor="middle">Field of Dreams</text>
<text x="534.6" y="368.5" text-anchor="middle">(1989)</text>
<text x="184.6" y="113.1" text-anchor="middle">The Kiss</text>
<text x="184.6" y="117.3" text-anchor="middle">(1896)</text>
<text x="177.8" y="133.1" text-anchor="end">The Merry Widow</text>
<text x="177.8" y="137.3" text-anchor="end">(1925)</text>
<text x="177.8" y="162.3" text-anchor="end">Sunrise: A Song of</text>
<text x="177.8" y="166.5" text-anchor="end">Two Humans</text>
<text x="177.8" y="170.7" text-anchor="end">(1927)</text>
<text x="177.8" y="179.5" text-anchor="end">Trouble in Paradise</text>
<text x="177.8" y="183.7" text-anchor="end">(1932)</text>
<text x="177.8" y="193.7" text-anchor="end">Gone with the Wind</text>
<text x="177.8" y="197.9" text-anchor="end">(1939)</text>
<text x="205.6" y="208.8" text-anchor="end">Casablanca</text>
<text x="205.6" y="213" text-anchor="end">(1942)</text>
<text x="290.8" y="74.3" text-anchor="middle">Brief Encounter</text>
<text x="290.8" y="78.5" text-anchor="middle">(1945)</text>
<text x="325.9" y="74.3" text-anchor="middle">Roman Holiday</text>
<text x="325.9" y="78.5" text-anchor="middle">(1953)</text>
<text x="361" y="70.1" text-anchor="middle">All That Heaven</text>
<text x="361" y="74.3" text-anchor="middle">Allows</text>
<text x="361" y="78.5" text-anchor="middle">(1955)</text>
<text x="396.5" y="70.1" text-anchor="middle">Breakfast at</text>
<text x="396.5" y="74.3" text-anchor="middle">Tiffany&#x27;s</text>
<text x="396.5" y="78.5" text-anchor="middle">(1961)</text>
<text x="432.1" y="74.3" text-anchor="middle">Annie Hall</text>
<text x="432.1" y="78.5" text-anchor="middle">(1977)</text>
<text x="467.5" y="70.1" text-anchor="middle">An Officer and a</text>
<text x="467.5" y="74.3" text-anchor="middle">Gentleman</text>
<text x="467.5" y="78.5" text-anchor="middle">(1982)</text>
<text x="502.7" y="70.1" text-anchor="middle">When Harry Met</text>
<text x="502.7" y="74.3" text-anchor="middle">Sally...</text>
<text x="502.7" y="78.5" text-anchor="middle">(1989)</text>
<text x="540.9" y="74.3" text-anchor="middle">Truly, Madly, Deeply</text>
<text x="540.9" y="78.5" text-anchor="middle">(1990)</text>
<text x="587.2" y="70.1" text-anchor="middle">Four Weddings</text>
<text x="587.2" y="74.3" text-anchor="middle">and a Funeral</text>
<text x="587.2" y="78.5" text-anchor="middle">(1994)</text>
<text x="629.1" y="74.3" text-anchor="middle">Notting Hill</text>
<text x="629.1" y="78.5" text-anchor="middle">(1999)</text>
<text x="673.4" y="74.3" text-anchor="middle">Love Actually</text>
<text x="673.4" y="78.5" text-anchor="middle">(2003)</text>
<text x="717.5" y="74.3" text-anchor="middle">Brokeback Mountain</text>
<text x="717.5" y="78.5" text-anchor="middle">(2005)</text>
<text x="761.8" y="74.3" text-anchor="middle">Moonlight</text>
<text x="761.8" y="78.5" text-anchor="middle">(2016)</text>
<text x="308.3" y="94.9" text-anchor="middle">Beauty and</text>
<text x="308.3" y="99.1" text-anchor="middle">the Beast</text>
<text x="308.3" y="103.3" text-anchor="middle">(1946)</text>
<text x="343.7" y="94.9" text-anchor="middle">To Catch a Thief</text>
<text x="343.7" y="99.1" text-anchor="middle">(1955)</text>
<text x="379" y="94.9" text-anchor="middle">The Apartment</text>
<text x="379" y="99.1" text-anchor="middle">(1960)</text>
<text x="414.6" y="94.9" text-anchor="middle">The Graduate</text>
<text x="414.6" y="99.1" text-anchor="middle">(1967)</text>
<text x="449.9" y="94.9" text-anchor="middle">Days of Heaven</text>
<text x="449.9" y="99.1" text-anchor="middle">(1978)</text>
<text x="485" y="94.9" text-anchor="middle">Dirty Dancing</text>
<text x="485" y="99.1" text-anchor="middle">(1987)</text>
<text x="520.6" y="94.9" text-anchor="middle">Ghost</text>
<text x="520.6" y="99.1" text-anchor="middle">(1990)</text>
<text x="566.4" y="94.9" text-anchor="middle">The Remains of the Day</text>
<text x="566.4" y="99.1" text-anchor="middle">(1993)</text>
<text x="607.3" y="94.9" text-anchor="middle">Titanic</text>
<text x="607.3" y="99.1" text-anchor="middle">(1997)</text>
<text x="651.1" y="94.9" text-anchor="middle">In the Mood for Love</text>
<text x="651.1" y="99.1" text-anchor="middle">(2000)</text>
<text x="695.5" y="94.9" text-anchor="middle">Eternal Sunshine of the</text>
<text x="695.5" y="99.1" text-anchor="middle">Spotless Mind</text>
<text x="695.5" y="103.3" text-anchor="middle">(2004)</text>
<text x="739.3" y="94.9" text-anchor="middle">Her</text>
<text x="739.3" y="99.1" text-anchor="middle">(2013)</text>
<text x="782.8" y="84.9">Past Lives</text>
<text x="782.8" y="89.1">(2023)</text>
<text x="208.9" y="123.5" text-anchor="middle">The Birth of a</text>
<text x="208.9" y="127.7" text-anchor="middle">Nation</text>
<text x="208.9" y="131.9" text-anchor="middle">(1915)</text>
<text x="215.7" y="152.6">Battleship Potemkin</text>
<text x="215.7" y="156.8">(1925)</text>
<text x="215.7" y="168.9">Wings</text>
<text x="215.7" y="173.1">(1927)</text>
<text x="215.7" y="182.4">All Quiet on the</text>
<text x="215.7" y="186.6">Western Front</text>
<text x="215.7" y="190.8">(1930)</text>
<text x="215.7" y="218">In Which We Serve</text>
<text x="215.7" y="222.2">(1942)</text>
<text x="215.7" y="234.5">Lifeboat</text>
<text x="215.7" y="238.7">(1944)</text>
<text x="215.7" y="251.1">The Dam Busters</text>
<text x="215.7" y="255.3">(1955)</text>
<text x="215.7" y="267.7">Reach for the Sky</text>
<text x="215.7" y="271.9">(1956)</text>
<text x="215.7" y="282.1">The Bridge on the</text>
<text x="215.7" y="286.3">River Kwai</text>
<text x="215.7" y="290.5">(1957)</text>
<text x="215.7" y="300.5">Paths of Glory</text>
<text x="215.7" y="304.7">(1957)</text>
<text x="215.7" y="316.8">Ice Cold in Alex</text>
<text x="215.7" y="321">(1958)</text>
<text x="215.7" y="331.8">The Guns of</text>
<text x="215.7" y="336">Navarone</text>
<text x="215.7" y="340.2">(1961)</text>
<text x="215.7" y="351.9">The Great Escape</text>
<text x="215.7" y="356.1">(1963)</text>
<text x="218.6" y="432.6" text-anchor="end">Where Eagles</text>
<text x="218.6" y="436.8" text-anchor="end">Dare</text>
<text x="218.6" y="441" text-anchor="end">(1968)</text>
<text x="249.3" y="446.2">Patton</text>
<text x="249.3" y="450.4">(1970)</text>
<text x="249.3" y="461">The Deer Hunter</text>
<text x="249.3" y="465.2">(1978)</text>
<text x="249.3" y="475.6">Apocalypse Now</text>
<text x="249.3" y="479.8">(1979)</text>
<text x="249.3" y="504.4">Platoon</text>
<text x="249.3" y="508.6">(1986)</text>
<text x="249.3" y="520.2">Top Gun</text>
<text x="249.3" y="524.4">(1986)</text>
<text x="218.9" y="519.8" text-anchor="middle">Schindler&#x27;s List</text>
<text x="218.9" y="524" text-anchor="middle">(1993)</text>
<text x="202.9" y="540.4" text-anchor="middle">Saving Private Ryan</text>
<text x="202.9" y="544.6" text-anchor="middle">(1998)</text>
<text x="235.5" y="540.4" text-anchor="middle">Full Metal Jacket</text>
<text x="235.5" y="544.6" text-anchor="middle">(1987)</text>
<text x="170.1" y="535.5" text-anchor="end">Black Hawk Down</text>
<text x="170.1" y="539.7" text-anchor="end">(2001)</text>
<text x="148" y="554.7" text-anchor="end">Hacksaw Ridge</text>
<text x="148" y="558.9" text-anchor="end">(2016)</text>
<text x="126.5" y="573.5" text-anchor="end">1917</text>
<text x="126.5" y="577.7" text-anchor="end">(2019)</text>
<text x="106" y="591.4" text-anchor="end">All Quiet on the Western Front</text>
<text x="106" y="595.6" text-anchor="end">(2022)</text>
<text x="173" y="558.6">The Hurt Locker</text>
<text x="173" y="562.8">(2008)</text>
<text x="151.5" y="577.3">Dunkirk</text>
<text x="151.5" y="581.5">(2017)</text>
<text x="130.5" y="595.6">Top Gun: Maverick</text>
<text x="130.5" y="599.8">(2022)</text>
<text x="99.8" y="611.6" text-anchor="end">The Zone of Interest</text>
<text x="99.8" y="615.8" text-anchor="end">(2023)</text>
<text x="291.3" y="143.3" text-anchor="middle">The Jazz Singer</text>
<text x="291.3" y="147.5" text-anchor="middle">(1927)</text>
<text x="298.1" y="163.7">Top Hat</text>
<text x="298.1" y="167.9">(1935)</text>
<text x="298.1" y="192">Meet Me in St. Louis</text>
<text x="298.1" y="196.2">(1944)</text>
<text x="298.1" y="220.1">An American in Paris</text>
<text x="298.1" y="224.3">(1951)</text>
<text x="298.1" y="247.9">Gentlemen Prefer Blondes</text>
<text x="298.1" y="252.1">(1953)</text>
<text x="298.1" y="276.2">West Side Story</text>
<text x="298.1" y="280.4">(1961)</text>
<text x="298.1" y="304.3">A Hard Day&#x27;s Night</text>
<text x="298.1" y="308.5">(1964)</text>
<text x="284.5" y="175.6" text-anchor="end">The Wizard</text>
<text x="284.5" y="179.8" text-anchor="end">of Oz</text>
<text x="284.5" y="184" text-anchor="end">(1939)</text>
<text x="284.5" y="205.8" text-anchor="end">On the Town</text>
<text x="284.5" y="210" text-anchor="end">(1949)</text>
<text x="284.5" y="234.1" text-anchor="end">Singin&#x27; in the Rain</text>
<text x="284.5" y="238.3" text-anchor="end">(1952)</text>
<text x="284.5" y="261.7" text-anchor="end">A Star Is Born</text>
<text x="284.5" y="265.9" text-anchor="end">(1954)</text>
<text x="284.5" y="290" text-anchor="end">My Fair Lady</text>
<text x="284.5" y="294.2" text-anchor="end">(1964)</text>
<text x="284.5" y="318.1" text-anchor="end">Help!</text>
<text x="284.5" y="322.3" text-anchor="end">(1965)</text>
<text x="284.5" y="332.4" text-anchor="end">The Sound of Music</text>
<text x="284.5" y="336.6" text-anchor="end">(1965)</text>
<text x="327.5" y="331.7" text-anchor="middle">The Rocky</text>
<text x="327.5" y="335.9" text-anchor="middle">Horror Picture</text>
<text x="327.5" y="340.1" text-anchor="middle">Show</text>
<text x="327.5" y="344.3" text-anchor="middle">(1975)</text>
<text x="347.8" y="348.7">Bugsy Malone</text>
<text x="347.8" y="352.9">(1976)</text>
<text x="365.6" y="354.5">Grease</text>
<text x="365.6" y="358.7">(1978)</text>
<text x="363.4" y="419.4" text-anchor="end">Footloose</text>
<text x="363.4" y="423.6" text-anchor="end">(1984)</text>
<text x="380.2" y="436.5" text-anchor="middle">Little Shop of</text>
<text x="380.2" y="440.7" text-anchor="middle">Horrors</text>
<text x="380.2" y="444.9" text-anchor="middle">(1986)</text>
<text x="466.7" y="415.8" text-anchor="middle">The Commitments</text>
<text x="466.7" y="420" text-anchor="middle">(1991)</text>
<text x="576.4" y="475.9">The Nightmare</text>
<text x="576.4" y="480.1">Before</text>
<text x="576.4" y="484.3">Christmas</text>
<text x="576.4" y="488.5">(1993)</text>
<text x="628.4" y="481.4" text-anchor="middle">Moulin Rouge!</text>
<text x="628.4" y="485.6" text-anchor="middle">(2001)</text>
<text x="669.7" y="477.2" text-anchor="middle">Hedwig and</text>
<text x="669.7" y="481.4" text-anchor="middle">the Angry Inch</text>
<text x="669.7" y="485.6" text-anchor="middle">(2001)</text>
<text x="703.2" y="492.3">Chicago</text>
<text x="703.2" y="496.5">(2002)</text>
<text x="717.2" y="504.9">Mamma Mia!</text>
<text x="717.2" y="509.1">(2008)</text>
<text x="731.2" y="517.4">Les Misérables</text>
<text x="731.2" y="521.6">(2012)</text>
<text x="745.2" y="529.9">La La Land</text>
<text x="745.2" y="534.1">(2016)</text>
<text x="759.7" y="542.9">The Greatest Showman</text>
<text x="759.7" y="547.1">(2017)</text>
<text x="773.7" y="555.4">A Star Is Born</text>
<text x="773.7" y="559.6">(2018)</text>
<text x="801" y="561.1" text-anchor="middle">Hamilton</text>
<text x="801" y="565.3" text-anchor="middle">(2020)</text>
<text x="837.1" y="561.1" text-anchor="middle">In The Heights</text>
<text x="837.1" y="565.3" text-anchor="middle">(2021)</text>
<text x="787.7" y="581.7" text-anchor="middle">Rocketman</text>
<text x="787.7" y="585.9" text-anchor="middle">(2019)</text>
<text x="819.5" y="581.7" text-anchor="middle">West Side Story</text>
<text x="819.5" y="585.9" text-anchor="middle">(2021)</text>
<text x="856.6" y="581.7" text-anchor="middle">Wonka</text>
<text x="856.6" y="585.9" text-anchor="middle">(2023)</text>
<text x="878.4" y="571.7">Wicked</text>
<text x="878.4" y="575.9">(2024)</text>
<text x="371.7" y="137" text-anchor="middle">Rio Bravo</text>
<text x="371.7" y="141.2" text-anchor="middle">(1959)</text>
<text x="395.3" y="137" text-anchor="middle">The Searchers</text>
<text x="395.3" y="141.2" text-anchor="middle">(1956)</text>
<text x="421.6" y="137" text-anchor="middle">Johnny Guitar</text>
<text x="421.6" y="141.2" text-anchor="middle">(1954)</text>
<text x="458" y="137" text-anchor="middle">Red River</text>
<text x="458" y="141.2" text-anchor="middle">(1948)</text>
<text x="492.5" y="132.8" text-anchor="middle">My Darling</text>
<text x="492.5" y="137" text-anchor="middle">Clementine</text>
<text x="492.5" y="141.2" text-anchor="middle">(1946)</text>
<text x="533.8" y="137" text-anchor="middle">Destry Rides Again</text>
<text x="533.8" y="141.2" text-anchor="middle">(1939)</text>
<text x="568.2" y="137" text-anchor="middle">The Big Trail</text>
<text x="568.2" y="141.2" text-anchor="middle">(1930)</text>
<text x="602.5" y="137" text-anchor="middle">The Wind</text>
<text x="602.5" y="141.2" text-anchor="middle">(1928)</text>
<text x="636.8" y="137" text-anchor="middle">Hell&#x27;s Hinges</text>
<text x="636.8" y="141.2" text-anchor="middle">(1916)</text>
<text x="440.4" y="157.7" text-anchor="middle">High Noon</text>
<text x="440.4" y="161.9" text-anchor="middle">(1952)</text>
<text x="475" y="157.7" text-anchor="middle">The Treasure of</text>
<text x="475" y="161.9" text-anchor="middle">the Sierra Madre</text>
<text x="475" y="166.1" text-anchor="middle">(1948)</text>
<text x="512.6" y="157.7" text-anchor="middle">The Ox-Bow Incident</text>
<text x="512.6" y="161.9" text-anchor="middle">(1943)</text>
<text x="551.1" y="157.7" text-anchor="middle">Stagecoach</text>
<text x="551.1" y="161.9" text-anchor="middle">(1939)</text>
<text x="585.5" y="157.7" text-anchor="middle">The Virginian</text>
<text x="585.5" y="161.9" text-anchor="middle">(1929)</text>
<text x="619.8" y="157.7" text-anchor="middle">The Iron Horse</text>
<text x="619.8" y="161.9" text-anchor="middle">(1924)</text>
<text x="653.6" y="147.6">The Great Train Robbery</text>
<text x="653.6" y="151.8">(1903)</text>
<text x="363" y="163.7">The Magnificent Seven</text>
<text x="363" y="167.9">(1960)</text>
<text x="363" y="183.2">The Man Who Shot Liberty Valance</text>
<text x="363" y="187.4">(1962)</text>
<text x="363" y="201.5">A Fistful of Dollars</text>
<text x="363" y="205.7">(1964)</text>
<text x="363" y="219.6">The Good, the Bad and the Ugly</text>
<text x="363" y="223.8">(1966)</text>
<text x="363" y="237.3">Once Upon a Time in the West</text>
<text x="363" y="241.5">(1968)</text>
<text x="363" y="255.4">Butch Cassidy and the Sundance Kid</text>
<text x="363" y="259.6">(1969)</text>
<text x="363" y="273">The Wild Bunch</text>
<text x="363" y="277.2">(1969)</text>
<text x="363" y="290.5">McCabe and Mrs. Miller</text>
<text x="363" y="294.7">(1971)</text>
<text x="363" y="321.3">The Shootist</text>
<text x="363" y="325.5">(1976)</text>
<text x="409.9" y="321.4" text-anchor="middle">Heaven&#x27;s Gate</text>
<text x="409.9" y="325.6" text-anchor="middle">(1980)</text>
<text x="436.9" y="321.4" text-anchor="middle">Silverado</text>
<text x="436.9" y="325.6" text-anchor="middle">(1985)</text>
<text x="386.2" y="342.1" text-anchor="middle">The Outlaw Josey Wales</text>
<text x="386.2" y="346.2" text-anchor="middle">(1976)</text>
<text x="454.8" y="346.1">Pale Rider</text>
<text x="454.8" y="350.3">(1985)</text>
<text x="441.2" y="416.3" text-anchor="end">Young Guns</text>
<text x="441.2" y="420.5" text-anchor="end">(1988)</text>
<text x="441.2" y="435.9" text-anchor="end">Dances with Wolves</text>
<text x="441.2" y="440.1" text-anchor="end">(1990)</text>
<text x="441.2" y="449.9" text-anchor="end">Unforgiven</text>
<text x="441.2" y="454.1" text-anchor="end">(1992)</text>
<text x="427.1" y="467" text-anchor="end">The Last of the Mohicans</text>
<text x="427.1" y="471.2" text-anchor="end">(1992)</text>
<text x="413.9" y="480.7" text-anchor="end">Tombstone</text>
<text x="413.9" y="484.9" text-anchor="end">(1993)</text>
<text x="400.6" y="494.5" text-anchor="end">Legends of the Fall</text>
<text x="400.6" y="498.7" text-anchor="end">(1994)</text>
<text x="386.9" y="508.7" text-anchor="end">There Will Be Blood</text>
<text x="386.9" y="512.9" text-anchor="end">(2007)</text>
<text x="371.9" y="524.2" text-anchor="end">3:10 to Yuma</text>
<text x="371.9" y="528.4" text-anchor="end">(2007)</text>
<text x="337.5" y="558" text-anchor="end">Django Unchained</text>
<text x="337.5" y="562.2" text-anchor="end">(2012)</text>
<text x="324.5" y="570.9" text-anchor="end">The Hateful Eight</text>
<text x="324.5" y="575.1" text-anchor="end">(2015)</text>
<text x="312.7" y="582.7" text-anchor="end">Bone Tomahawk</text>
<text x="312.7" y="586.9" text-anchor="end">(2015)</text>
<text x="300.7" y="594.6" text-anchor="end">The Revenant</text>
<text x="300.7" y="598.8" text-anchor="end">(2015)</text>
<text x="289.9" y="605.4" text-anchor="end">The Power of the Dog</text>
<text x="289.9" y="609.6" text-anchor="end">(2021)</text>
<text x="362.6" y="536.8" text-anchor="end">No Country for Old Men</text>
<text x="362.6" y="541" text-anchor="end">(2007)</text>
<text x="283.6" y="628.1" text-anchor="end">Killers of the Flower Moon</text>
<text x="283.6" y="632.3" text-anchor="end">(2023)</text>
<text x="665" y="264.1" text-anchor="end">Westworld</text>
<text x="665" y="268.3" text-anchor="end">(1973)</text>
<text x="744.1" y="132.9" text-anchor="end">The Cabinet of Dr. Caligari</text>
<text x="744.1" y="137.1" text-anchor="end">(1920)</text>
<text x="731.7" y="145.3" text-anchor="end">Nosferatu</text>
<text x="731.7" y="149.5" text-anchor="end">(1922)</text>
<text x="719" y="158" text-anchor="end">Dracula</text>
<text x="719" y="162.2" text-anchor="end">(1931)</text>
<text x="707" y="170" text-anchor="end">Frankenstein</text>
<text x="707" y="174.2" text-anchor="end">(1931)</text>
<text x="694.6" y="182.4" text-anchor="end">The Old Dark House</text>
<text x="694.6" y="186.6" text-anchor="end">(1932)</text>
<text x="682" y="195" text-anchor="end">Cat People</text>
<text x="682" y="199.2" text-anchor="end">(1942)</text>
<text x="767.5" y="123.7">The House of the Devil</text>
<text x="767.5" y="127.9">(1896)</text>
<text x="521.8" y="201.1" text-anchor="middle">Psycho</text>
<text x="521.8" y="205.3" text-anchor="middle">(1960)</text>
<text x="559.6" y="196.9" text-anchor="middle">Attack of the Fifty</text>
<text x="559.6" y="201.1" text-anchor="middle">Foot Woman</text>
<text x="559.6" y="205.3" text-anchor="middle">(1958)</text>
<text x="644.9" y="196.9" text-anchor="middle">Creature from</text>
<text x="644.9" y="201.1" text-anchor="middle">the Black Lagoon</text>
<text x="644.9" y="205.3" text-anchor="middle">(1954)</text>
<text x="606" y="198.3" text-anchor="middle">Invasion of the Body</text>
<text x="606" y="202.5" text-anchor="middle">Snatchers</text>
<text x="606" y="206.7" text-anchor="middle">(1956)</text>
<text x="540.9" y="221.8" text-anchor="middle">House on</text>
<text x="540.9" y="226" text-anchor="middle">Haunted Hill</text>
<text x="540.9" y="230.2" text-anchor="middle">(1959)</text>
<text x="582.7" y="221.8" text-anchor="middle">Night of the Demon</text>
<text x="582.7" y="226" text-anchor="middle">(1957)</text>
<text x="625.3" y="221.8" text-anchor="middle">The Night of the</text>
<text x="625.3" y="226" text-anchor="middle">Hunter</text>
<text x="625.3" y="230.2" text-anchor="middle">(1955)</text>
<text x="665.4" y="221.8" text-anchor="middle">The Spiral Staircase</text>
<text x="665.4" y="226" text-anchor="middle">(1946)</text>
<text x="504.5" y="217.7" text-anchor="end">The Haunting</text>
<text x="504.5" y="221.9" text-anchor="end">(1963)</text>
<text x="504.5" y="232.1" text-anchor="end">Night of the Living Dead</text>
<text x="504.5" y="236.3" text-anchor="end">(1968)</text>
<text x="504.5" y="256.7" text-anchor="end">Rosemary&#x27;s Baby</text>
<text x="504.5" y="260.9" text-anchor="end">(1968)</text>
<text x="504.5" y="274.2" text-anchor="end">The Exorcist</text>
<text x="504.5" y="278.4" text-anchor="end">(1973)</text>
<text x="539.7" y="274" text-anchor="middle">The Wicker Man</text>
<text x="539.7" y="278.2" text-anchor="middle">(1973)</text>
<text x="571.5" y="274" text-anchor="middle">Jaws</text>
<text x="571.5" y="278.2" text-anchor="middle">(1975)</text>
<text x="603.6" y="274" text-anchor="middle">Halloween</text>
<text x="603.6" y="278.2" text-anchor="middle">(1978)</text>
<text x="637.6" y="295.9" text-anchor="end">Alien</text>
<text x="637.6" y="300.1" text-anchor="end">(1979)</text>
<text x="661.9" y="409.9">The Shining</text>
<text x="661.9" y="414.1">(1980)</text>
<text x="661.9" y="427.7">An American Werewolf in London</text>
<text x="661.9" y="431.9">(1981)</text>
<text x="689.7" y="439.9" text-anchor="middle">A Nightmare on Elm Street</text>
<text x="689.7" y="444.1" text-anchor="middle">(1984)</text>
<text x="733.8" y="435.7" text-anchor="middle">The Silence of the</text>
<text x="733.8" y="439.9" text-anchor="middle">Lambs</text>
<text x="733.8" y="444.1" text-anchor="middle">(1991)</text>
<text x="772.2" y="435.7" text-anchor="middle">The Blair Witch</text>
<text x="772.2" y="439.9" text-anchor="middle">Project</text>
<text x="772.2" y="444.1" text-anchor="middle">(1999)</text>
<text x="666.3" y="460.6" text-anchor="middle">The Thing</text>
<text x="666.3" y="464.8" text-anchor="middle">(1982)</text>
<text x="713.8" y="460.6" text-anchor="middle">Hellraiser</text>
<text x="713.8" y="464.8" text-anchor="middle">(1987)</text>
<text x="754.4" y="460.6" text-anchor="middle">Ringu</text>
<text x="754.4" y="464.8" text-anchor="middle">(1998)</text>
<text x="789.7" y="460.6" text-anchor="middle">The Sixth Sense</text>
<text x="789.7" y="464.8" text-anchor="middle">(1999)</text>
<text x="803.7" y="443" text-anchor="end">The Others</text>
<text x="803.7" y="447.2" text-anchor="end">(2001)</text>
<text x="803.7" y="419.7" text-anchor="end">Saw</text>
<text x="803.7" y="423.9" text-anchor="end">(2004)</text>
<text x="817.3" y="431.2">28 Days Later</text>
<text x="817.3" y="435.4">(2002)</text>
<text x="807.8" y="403.1" text-anchor="end">Shaun of the Dead</text>
<text x="807.8" y="407.3" text-anchor="end">(2004)</text>
<text x="837.9" y="385.2">The Descent</text>
<text x="837.9" y="389.4">(2005)</text>
<text x="849.9" y="373">Let the Right One In</text>
<text x="849.9" y="377.2">(2008)</text>
<text x="859.9" y="362.9">The Babadook</text>
<text x="859.9" y="367.1">(2014)</text>
<text x="875.8" y="346.8">The Witch</text>
<text x="875.8" y="351">(2015)</text>
<text x="885.7" y="336.8">The Wailing</text>
<text x="885.7" y="341">(2016)</text>
<text x="896.1" y="326.3">Get Out</text>
<text x="896.1" y="330.5">(2017)</text>
<text x="907.7" y="314.6">Hereditary</text>
<text x="907.7" y="318.8">(2018)</text>
<text x="916.5" y="303.4">Midsommar</text>
<text x="916.5" y="307.6">(2019)</text>
<text x="856.6" y="417.4" text-anchor="end">What We Do in</text>
<text x="856.6" y="421.6" text-anchor="end">the Shadows</text>
<text x="856.6" y="425.8" text-anchor="end">(2014)</text>
<text x="811.4" y="139.4">Metropolis</text>
<text x="811.4" y="143.6">(1927)</text>
<text x="800.4" y="150.4">The Invisible Man</text>
<text x="800.4" y="154.6">(1933)</text>
<text x="789.4" y="161.4">Things to Come</text>
<text x="789.4" y="165.6">(1936)</text>
<text x="778.3" y="172.5">Flash Gordon Conquers the Universe</text>
<text x="778.3" y="176.7">(1940)</text>
<text x="757.3" y="193.5">The Day the Earth Stood Still</text>
<text x="757.3" y="197.7">(1951)</text>
<text x="746.3" y="204.6">The War of the Worlds</text>
<text x="746.3" y="208.8">(1953)</text>
<text x="725.2" y="225.7">La Jetée</text>
<text x="725.2" y="229.9">(1962)</text>
<text x="714.2" y="236.7">2001: A Space Odyssey</text>
<text x="714.2" y="240.9">(1968)</text>
<text x="704.2" y="246.7">Planet of the Apes</text>
<text x="704.2" y="250.9">(1968)</text>
<text x="693.6" y="257.3">Barbarella</text>
<text x="693.6" y="261.5">(1968)</text>
<text x="684.6" y="266.3">Solaris</text>
<text x="684.6" y="270.5">(1972)</text>
<text x="665.8" y="285.1">Close Encounters of the Third Kind</text>
<text x="665.8" y="289.3">(1977)</text>
<text x="536.7" y="414.3">Jurassic Park</text>
<text x="536.7" y="418.5">(1993)</text>
<text x="647.4" y="278.8" text-anchor="end">Star Wars</text>
<text x="647.4" y="283" text-anchor="end">(1977)</text>
<text x="601" y="325.3" text-anchor="end">The Terminator</text>
<text x="601" y="329.5" text-anchor="end">(1984)</text>
<text x="590.5" y="335.8" text-anchor="end">Back to the Future</text>
<text x="590.5" y="340" text-anchor="end">(1985)</text>
<text x="579.7" y="346.6" text-anchor="end">The Fly</text>
<text x="579.7" y="350.8" text-anchor="end">(1986)</text>
<text x="566.7" y="359.6" text-anchor="end">Robocop</text>
<text x="566.7" y="363.8" text-anchor="end">(1987)</text>
<text x="821.5" y="120.6">A Trip to the Moon</text>
<text x="821.5" y="124.8">(1902)</text>
<text x="768" y="183.9">Dr. Jekyll and Mr. Hyde</text>
<text x="768" y="188.1">(1941)</text>
<text x="631.6" y="314.9">Blade Runner</text>
<text x="631.6" y="319.1">(1982)</text>
<text x="614.8" y="313.7" text-anchor="end">Tron</text>
<text x="614.8" y="317.9" text-anchor="end">(1982)</text>
<text x="548.6" y="401.7">Spaceballs</text>
<text x="548.6" y="405.9">(1987)</text>
<text x="528.2" y="439.3">Ghost in the Shell</text>
<text x="528.2" y="443.5">(1995)</text>
<text x="528.2" y="457.7">12 Monkeys</text>
<text x="528.2" y="461.9">(1995)</text>
<text x="528.2" y="508.6">The Matrix</text>
<text x="528.2" y="512.8">(1999)</text>
<text x="528.2" y="531.4">Minority Report</text>
<text x="528.2" y="535.6">(2002)</text>
<text x="528.2" y="568.8">Avatar</text>
<text x="528.2" y="573">(2009)</text>
<text x="528.2" y="584.6">Gravity</text>
<text x="528.2" y="588.8">(2013)</text>
<text x="528.2" y="599.8">Under the Skin</text>
<text x="528.2" y="604">(2013)</text>
<text x="528.2" y="615.5">Interstellar</text>
<text x="528.2" y="619.7">(2014)</text>
<text x="528.2" y="670.6">Star Wars: The Force Awakens</text>
<text x="528.2" y="674.8">(2015)</text>
<text x="528.2" y="686.1">Arrival</text>
<text x="528.2" y="690.3">(2016)</text>
<text x="528.2" y="701.9">Blade Runner 2049</text>
<text x="528.2" y="706.1">(2017)</text>
<text x="517.2" y="479.3" text-anchor="end">The Iron Giant</text>
<text x="517.2" y="483.5" text-anchor="end">(1999)</text>
<text x="527.2" y="553.1">WALL-E</text>
<text x="527.2" y="557.3">(2008)</text>
<text x="525.6" y="629.7">Mad Max: Fury Road</text>
<text x="525.6" y="633.9">(2015)</text>
<text x="517.5" y="662.1" text-anchor="end">Jurassic World</text>
<text x="517.5" y="666.3" text-anchor="end">(2015)</text>
<text x="521.4" y="723.9" text-anchor="middle">Dune</text>
<text x="521.4" y="728.1" text-anchor="middle">(2021)</text>
<text x="888.3" y="76.5" text-anchor="middle">The Musketeers of Pig Alley</text>
<text x="888.3" y="80.7" text-anchor="middle">(1912)</text>
<text x="895.1" y="98.5">Underworld</text>
<text x="895.1" y="102.7">(1927)</text>
<text x="895.1" y="111.8">The Public Enemy</text>
<text x="895.1" y="116">(1931)</text>
<text x="895.1" y="125.6">M</text>
<text x="895.1" y="129.8">(1931)</text>
<text x="895.1" y="138.8">Little Caesar</text>
<text x="895.1" y="143">(1931)</text>
<text x="895.1" y="152.4">Angels with Dirty Faces</text>
<text x="895.1" y="156.6">(1938)</text>
<text x="895.1" y="165.9">The Maltese Falcon</text>
<text x="895.1" y="170.1">(1941)</text>
<text x="895.1" y="179.4">Citizen Kane</text>
<text x="895.1" y="183.6">(1941)</text>
<text x="895.1" y="192.5">Double Indemnity</text>
<text x="895.1" y="196.7">(1944)</text>
<text x="886.6" y="209">The Big Sleep</text>
<text x="886.6" y="213.2">(1946)</text>
<text x="875.4" y="220.1">The Third Man</text>
<text x="875.4" y="224.3">(1949)</text>
<text x="864.6" y="230.8">Sunset Boulevard</text>
<text x="864.6" y="235">(1950)</text>
<text x="854.1" y="241.2">Rear Window</text>
<text x="854.1" y="245.4">(1954)</text>
<text x="844" y="251.2">12 Angry Men</text>
<text x="844" y="255.4">(1957)</text>
<text x="833.5" y="261.7">Vertigo</text>
<text x="833.5" y="265.9">(1958)</text>
<text x="822.7" y="272.4">Touch of Evil</text>
<text x="822.7" y="276.6">(1958)</text>
<text x="811.4" y="283.6">Breathless</text>
<text x="811.4" y="287.8">(1960)</text>
<text x="800.7" y="294.2">Blow-Up</text>
<text x="800.7" y="298.4">(1966)</text>
<text x="788.9" y="305.9">Bonnie and Clyde</text>
<text x="788.9" y="310.1">(1967)</text>
<text x="542.7" y="296.5" text-anchor="middle">The Untouchables</text>
<text x="542.7" y="300.7" text-anchor="middle">(1987)</text>
<text x="588.5" y="296.5" text-anchor="middle">Blood Simple</text>
<text x="588.5" y="300.7" text-anchor="middle">(1984)</text>
<text x="663.7" y="296.5" text-anchor="middle">Body Heat</text>
<text x="663.7" y="300.7" text-anchor="middle">(1981)</text>
<text x="696.3" y="292.3" text-anchor="middle">Dog Day</text>
<text x="696.3" y="296.5" text-anchor="middle">Afternoon</text>
<text x="696.3" y="300.7" text-anchor="middle">(1975)</text>
<text x="726.3" y="296.5" text-anchor="middle">The Long Goodbye</text>
<text x="726.3" y="300.7" text-anchor="middle">(1973)</text>
<text x="757.6" y="296.5" text-anchor="middle">Get Carter</text>
<text x="757.6" y="300.7" text-anchor="middle">(1971)</text>
<text x="515.1" y="317.2" text-anchor="middle">Goodfellas</text>
<text x="515.1" y="321.4" text-anchor="middle">(1990)</text>
<text x="562.7" y="317.2" text-anchor="middle">Blue Velvet</text>
<text x="562.7" y="321.4" text-anchor="middle">(1986)</text>
<text x="680.5" y="317.2" text-anchor="middle">Taxi Driver</text>
<text x="680.5" y="321.4" text-anchor="middle">(1976)</text>
<text x="711.1" y="317.2" text-anchor="middle">Chinatown</text>
<text x="711.1" y="321.4" text-anchor="middle">(1974)</text>
<text x="742.1" y="317.2" text-anchor="middle">The Godfather</text>
<text x="742.1" y="321.4" text-anchor="middle">(1972)</text>
<text x="769.4" y="317.2" text-anchor="middle">Point Blank</text>
<text x="769.4" y="321.4" text-anchor="middle">(1967)</text>
<text x="494.3" y="329.4">Reservoir Dogs</text>
<text x="494.3" y="333.6">(1992)</text>
<text x="494.3" y="344.7">Pulp Fiction</text>
<text x="494.3" y="348.9">(1994)</text>
<text x="494.3" y="361.5">Casino</text>
<text x="494.3" y="365.7">(1995)</text>
<text x="494.3" y="407.5">The Usual</text>
<text x="494.3" y="411.7">Suspects</text>
<text x="494.3" y="415.9">(1995)</text>
<text x="494.3" y="437.3">Heat</text>
<text x="494.3" y="441.5">(1995)</text>
<text x="472.9" y="470.8">L.A. Confidential</text>
<text x="472.9" y="475">(1997)</text>
<text x="444.1" y="499.6">Memento</text>
<text x="444.1" y="503.8">(2000)</text>
<text x="413" y="530.7">Mulholland Drive</text>
<text x="413" y="534.9">(2001)</text>
<text x="301.8" y="535.3" text-anchor="middle">Shutter Island</text>
<text x="301.8" y="539.5" text-anchor="middle">(2010)</text>
<text x="266.1" y="546.2" text-anchor="end">Drive</text>
<text x="266.1" y="550.4" text-anchor="end">(2011)</text>
<text x="252.3" y="560.3" text-anchor="end">Gone Girl</text>
<text x="252.3" y="564.5" text-anchor="end">(2014)</text>
<text x="239.8" y="573" text-anchor="end">Inherent Vice</text>
<text x="239.8" y="577.2" text-anchor="end">(2014)</text>
<text x="228.5" y="584.5" text-anchor="end">Baby Driver</text>
<text x="228.5" y="588.7" text-anchor="end">(2017)</text>
<text x="223" y="606.1" text-anchor="end">The Irishman</text>
<text x="223" y="610.3" text-anchor="end">(2019)</text>
<text x="220.6" y="673.8" text-anchor="end">The Wild Robot</text>
<text x="220.6" y="678" text-anchor="end">(2024)</text>
<text x="263.8" y="663.2" text-anchor="middle">Coco</text>
<text x="263.8" y="667.4" text-anchor="middle">(2017)</text>
<text x="305.1" y="663.2" text-anchor="middle">Moana</text>
<text x="305.1" y="667.4" text-anchor="middle">(2016)</text>
<text x="348.4" y="663.2" text-anchor="middle">Shaun the Sheep Movie</text>
<text x="348.4" y="667.4" text-anchor="middle">(2015)</text>
<text x="243" y="683.8" text-anchor="middle">Spider-Man:</text>
<text x="243" y="688" text-anchor="middle">Into the</text>
<text x="243" y="692.2" text-anchor="middle">Spider-Verse</text>
<text x="243" y="696.4" text-anchor="middle">(2018)</text>
<text x="283.8" y="683.8" text-anchor="middle">Loving Vincent</text>
<text x="283.8" y="688" text-anchor="middle">(2017)</text>
<text x="326.9" y="683.8" text-anchor="middle">Kubo and the</text>
<text x="326.9" y="688" text-anchor="middle">Two Strings</text>
<text x="326.9" y="692.2" text-anchor="middle">(2016)</text>
<text x="369.5" y="683.8" text-anchor="middle">Hotel Transylvania</text>
<text x="369.5" y="688" text-anchor="middle">(2012)</text>
<text x="391" y="654.2" text-anchor="end">The Adventures of Tintin</text>
<text x="391" y="658.4" text-anchor="end">(2011)</text>
<text x="402.5" y="643.5" text-anchor="end">How to Train Your Dragon</text>
<text x="402.5" y="647.7" text-anchor="end">(2010)</text>
<text x="413.8" y="632.9" text-anchor="end">Coraline</text>
<text x="413.8" y="637.1" text-anchor="end">(2009)</text>
<text x="425" y="622.5" text-anchor="end">Up</text>
<text x="425" y="626.7" text-anchor="end">(2009)</text>
<text x="436.3" y="612" text-anchor="end">Fantastic Mr. Fox</text>
<text x="436.3" y="616.2" text-anchor="end">(2009)</text>
<text x="455.6" y="594" text-anchor="end">Ratatouille</text>
<text x="455.6" y="598.2" text-anchor="end">(2007)</text>
<text x="468.9" y="585.9" text-anchor="end">Corpse Bride (2005)</text>
<text x="474" y="511.9" text-anchor="end">Spirited Away</text>
<text x="474" y="516.1" text-anchor="end">(2001)</text>
<text x="474" y="526.9" text-anchor="end">Monsters, Inc.</text>
<text x="474" y="531.1" text-anchor="end">(2001)</text>
<text x="474" y="541.5" text-anchor="end">Finding Nemo</text>
<text x="474" y="545.7" text-anchor="end">(2003)</text>
<text x="474" y="556.5" text-anchor="end">The Incredibles</text>
<text x="474" y="560.7" text-anchor="end">(2004)</text>
<text x="474" y="569.5" text-anchor="end">Wallace &amp; Gromit: The</text>
<text x="474" y="573.7" text-anchor="end">Curse of the Were-Rabbit</text>
<text x="474" y="577.9" text-anchor="end">(2005)</text>
<text x="487.6" y="489.9" text-anchor="end">Shrek</text>
<text x="487.6" y="494.1" text-anchor="end">(2001)</text>
<text x="534.2" y="477.1" text-anchor="middle">Toy Story</text>
<text x="534.2" y="481.3" text-anchor="middle">(1995)</text>
<text x="557.2" y="477.1" text-anchor="middle">The Lion King</text>
<text x="557.2" y="481.3" text-anchor="middle">(1994)</text>
<text x="575.6" y="508.2" text-anchor="end">Aladdin</text>
<text x="575.6" y="512.4" text-anchor="end">(1992)</text>
<text x="593.1" y="523.5" text-anchor="end">Who Framed Roger Rabbit</text>
<text x="593.1" y="527.7" text-anchor="end">(1988)</text>
<text x="608.9" y="537.4" text-anchor="end">My Neighbor Totoro</text>
<text x="608.9" y="541.6" text-anchor="end">(1988)</text>
<text x="630.7" y="556.5" text-anchor="end">Watership Down</text>
<text x="630.7" y="560.7" text-anchor="end">(1978)</text>
<text x="647" y="570.8" text-anchor="end">The Lord of the Rings</text>
<text x="647" y="575" text-anchor="end">(1978)</text>
<text x="661.3" y="583.4" text-anchor="end">Belladonna of Sadness</text>
<text x="661.3" y="587.6" text-anchor="end">(1973)</text>
<text x="678.3" y="598.3" text-anchor="end">Yellow Submarine</text>
<text x="678.3" y="602.5" text-anchor="end">(1968)</text>
<text x="693.4" y="611.6" text-anchor="end">Mary Poppins</text>
<text x="693.4" y="615.8" text-anchor="end">(1964)</text>
<text x="709.7" y="625.9" text-anchor="end">Animal Farm</text>
<text x="709.7" y="630.1" text-anchor="end">(1954)</text>
<text x="757.6" y="618.4" text-anchor="middle">Pinocchio</text>
<text x="757.6" y="622.6" text-anchor="middle">(1940)</text>
<text x="798.1" y="614.2" text-anchor="middle">Snow White and the</text>
<text x="798.1" y="618.4" text-anchor="middle">Seven Dwarfs</text>
<text x="798.1" y="622.6" text-anchor="middle">(1937)</text>
<text x="736.5" y="639" text-anchor="middle">Cinderella</text>
<text x="736.5" y="643.2" text-anchor="middle">(1950)</text>
<text x="779.2" y="639" text-anchor="middle">Fantasia</text>
<text x="779.2" y="643.2" text-anchor="middle">(1940)</text>
<text x="823.2" y="639" text-anchor="middle">Steamboat Willie</text>
<text x="823.2" y="643.2" text-anchor="middle">(1928)</text>
<text x="849.4" y="629">Fantasmagorie</text>
<text x="849.4" y="633.2">(1908)</text>
<text x="70" y="720.2" text-anchor="end">The Perils</text>
<text x="70" y="724.4" text-anchor="end">of Pauline</text>
<text x="70" y="728.6" text-anchor="end">(1914)</text>
<text x="85.1" y="705.6" text-anchor="middle">The Thief of</text>
<text x="85.1" y="709.8" text-anchor="middle">Bagdad</text>
<text x="85.1" y="714" text-anchor="middle">(1924)</text>
<text x="114.4" y="709.8" text-anchor="middle">King Kong</text>
<text x="114.4" y="714" text-anchor="middle">(1933)</text>
<text x="143.5" y="709.8" text-anchor="middle">Green Hell</text>
<text x="143.5" y="714" text-anchor="middle">(1940)</text>
<text x="172.8" y="705.6" text-anchor="middle">The Wages</text>
<text x="172.8" y="709.8" text-anchor="middle">of Fear</text>
<text x="172.8" y="714" text-anchor="middle">(1953)</text>
<text x="201.9" y="705.6" text-anchor="middle">North by</text>
<text x="201.9" y="709.8" text-anchor="middle">Northwest</text>
<text x="201.9" y="714" text-anchor="middle">(1959)</text>
<text x="231.5" y="709.8" text-anchor="middle">Goldfinger</text>
<text x="231.5" y="714" text-anchor="middle">(1964)</text>
<text x="260.6" y="709.8" text-anchor="middle">Vanishing Point</text>
<text x="260.6" y="714" text-anchor="middle">(1971)</text>
<text x="290" y="705.6" text-anchor="middle">The Day of</text>
<text x="290" y="709.8" text-anchor="middle">the Jackal</text>
<text x="290" y="714" text-anchor="middle">(1973)</text>
<text x="319.4" y="701.4" text-anchor="middle">The Taking of</text>
<text x="319.4" y="705.6" text-anchor="middle">Pelham One</text>
<text x="319.4" y="709.8" text-anchor="middle">Two Three</text>
<text x="319.4" y="714" text-anchor="middle">(1974)</text>
<text x="348" y="705.6" text-anchor="middle">Raiders of the</text>
<text x="348" y="709.8" text-anchor="middle">Lost Ark</text>
<text x="348" y="714" text-anchor="middle">(1981)</text>
<text x="377.3" y="709.8" text-anchor="middle">Die Hard</text>
<text x="377.3" y="714" text-anchor="middle">(1988)</text>
<text x="100.2" y="730.4" text-anchor="middle">The Black</text>
<text x="100.2" y="734.6" text-anchor="middle">Pirate</text>
<text x="100.2" y="738.8" text-anchor="middle">(1926)</text>
<text x="129" y="730.4" text-anchor="middle">The Adventures</text>
<text x="129" y="734.6" text-anchor="middle">of Robin Hood</text>
<text x="129" y="738.8" text-anchor="middle">(1938)</text>
<text x="158.3" y="730.4" text-anchor="middle">The Flame and</text>
<text x="158.3" y="734.6" text-anchor="middle">the Arrow</text>
<text x="158.3" y="738.8" text-anchor="middle">(1950)</text>
<text x="187.4" y="730.4" text-anchor="middle">Seven Samurai</text>
<text x="187.4" y="734.6" text-anchor="middle">(1954)</text>
<text x="216.9" y="730.4" text-anchor="middle">Dr. No</text>
<text x="216.9" y="734.6" text-anchor="middle">(1962)</text>
<text x="246" y="730.4" text-anchor="middle">The Ipcress File</text>
<text x="246" y="734.6" text-anchor="middle">(1965)</text>
<text x="275.1" y="730.4" text-anchor="middle">The French</text>
<text x="275.1" y="734.6" text-anchor="middle">Connection</text>
<text x="275.1" y="738.8" text-anchor="middle">(1971)</text>
<text x="304.3" y="730.4" text-anchor="middle">Lady</text>
<text x="304.3" y="734.6" text-anchor="middle">Snowblood</text>
<text x="304.3" y="738.8" text-anchor="middle">(1973)</text>
<text x="333.7" y="730.4" text-anchor="middle">The Warriors</text>
<text x="333.7" y="734.6" text-anchor="middle">(1979)</text>
<text x="362.7" y="730.4" text-anchor="middle">Police Story</text>
<text x="362.7" y="734.6" text-anchor="middle">(1985)</text>
<text x="394.6" y="730.4" text-anchor="middle">Point Break</text>
<text x="394.6" y="734.6" text-anchor="middle">(1991)</text>
<text x="414.6" y="730.4" text-anchor="middle">Speed</text>
<text x="414.6" y="734.6" text-anchor="middle">(1994)</text>
<text x="419.2" y="708.8" text-anchor="end">Mission: Impossible</text>
<text x="419.2" y="713" text-anchor="end">(1996)</text>
<text x="430.5" y="697.3" text-anchor="end">Face/Off</text>
<text x="430.5" y="701.5" text-anchor="end">(1997)</text>
<text x="441" y="686.6" text-anchor="end">Crouching Tiger, Hidden Dragon</text>
<text x="441" y="690.8" text-anchor="end">(2000)</text>
<text x="451.3" y="680.3" text-anchor="end">The Bourne Identity (2002)</text>
<text x="461.8" y="665.4" text-anchor="end">Casino Royale</text>
<text x="461.8" y="669.6" text-anchor="end">(2006)</text>
<text x="471.8" y="655.2" text-anchor="end">The Dark Knight</text>
<text x="471.8" y="659.4" text-anchor="end">(2008)</text>
<text x="481.3" y="645.5" text-anchor="end">Skyfall</text>
<text x="481.3" y="649.7" text-anchor="end">(2012)</text>
<text x="491.1" y="635.6" text-anchor="end">John Wick</text>
<text x="491.1" y="639.8" text-anchor="end">(2014)</text>
<text x="574.6" y="633.7">Jason Bourne</text>
<text x="574.6" y="637.9">(2016)</text>
<text x="593.9" y="644.6">Mission: Impossible - Fallout</text>
<text x="593.9" y="648.8">(2018)</text>
<text x="613.1" y="655.3">Tenet</text>
<text x="613.1" y="659.5">(2020)</text>
<text x="629" y="673.1">No Time to Die</text>
<text x="629" y="677.3">(2021)</text>
<text x="139.5" y="404.4" text-anchor="middle">The Ladykillers</text>
<text x="139.5" y="408.6" text-anchor="middle">(1955)</text>
<text x="182.9" y="404.4" text-anchor="middle">The Pink Panther</text>
<text x="182.9" y="408.6" text-anchor="middle">(1963)</text>
<text x="250" y="404.4" text-anchor="middle">Carry On Camping</text>
<text x="250" y="408.6" text-anchor="middle">(1969)</text>
<text x="345.5" y="404.4" text-anchor="middle">Monty Python and</text>
<text x="345.5" y="408.6" text-anchor="middle">the Holy Grail</text>
<text x="345.5" y="412.8" text-anchor="middle">(1975)</text>
<text x="428.3" y="404.4" text-anchor="middle">This Is Spinal Tap</text>
<text x="428.3" y="408.6" text-anchor="middle">(1984)</text>
<text x="730.8" y="404.4" text-anchor="middle">Being John Malkovich</text>
<text x="730.8" y="408.6" text-anchor="middle">(1999)</text>
<text x="763.1" y="404.4" text-anchor="middle">Adaptation</text>
<text x="763.1" y="408.6" text-anchor="middle">(2002)</text>
<text x="831.1" y="404.4" text-anchor="middle">Idiocracy</text>
<text x="831.1" y="408.6" text-anchor="middle">(2006)</text>
<text x="161.6" y="383.7" text-anchor="middle">Some Like It Hot</text>
<text x="161.6" y="387.9" text-anchor="middle">(1959)</text>
<text x="231.7" y="383.7" text-anchor="middle">The Odd Couple</text>
<text x="231.7" y="387.9" text-anchor="middle">(1968)</text>
<text x="318.5" y="379.5" text-anchor="middle">Young</text>
<text x="318.5" y="383.7" text-anchor="middle">Frankenstein</text>
<text x="318.5" y="387.9" text-anchor="middle">(1974)</text>
<text x="355.2" y="383.7" text-anchor="middle">Animal House</text>
<text x="355.2" y="387.9" text-anchor="middle">(1978)</text>
<text x="413.3" y="383.7" text-anchor="middle">Ghostbusters</text>
<text x="413.3" y="387.9" text-anchor="middle">(1984)</text>
<text x="516.8" y="383.7" text-anchor="middle">Ferris Bueller&#x27;s Day Off</text>
<text x="516.8" y="387.9" text-anchor="middle">(1986)</text>
<text x="716.3" y="383.7" text-anchor="middle">The Big Lebowski</text>
<text x="716.3" y="387.9" text-anchor="middle">(1998)</text>
<text x="748.8" y="379.5" text-anchor="middle">The Royal</text>
<text x="748.8" y="383.7" text-anchor="middle">Tenenbaums</text>
<text x="748.8" y="387.9" text-anchor="middle">(2001)</text>
<text x="581.3" y="377.7" text-anchor="middle">White Men</text>
<text x="581.3" y="381.9" text-anchor="middle">Can&#x27;t Jump</text>
<text x="581.3" y="386.1" text-anchor="middle">(1992)</text>
<text x="614" y="381.9" text-anchor="middle">The Sandlot</text>
<text x="614" y="386.1" text-anchor="middle">(1993)</text>
<text x="664.7" y="377.7" text-anchor="middle">Happy</text>
<text x="664.7" y="381.9" text-anchor="middle">Gilmore</text>
<text x="664.7" y="386.1" text-anchor="middle">(1996)</text>
<text x="686.3" y="377.7" text-anchor="middle">Jerry</text>
<text x="686.3" y="381.9" text-anchor="middle">Maguire</text>
<text x="686.3" y="386.1" text-anchor="middle">(1996)</text>
<text x="779.4" y="381.9" text-anchor="middle">Dodgeball</text>
<text x="779.4" y="386.1" text-anchor="middle">(2004)</text>
<text x="634.8" y="355.8" text-anchor="middle">Hoop Dreams</text>
<text x="634.8" y="360" text-anchor="middle">(1994)</text>
<text x="712" y="355.6" text-anchor="middle">Ali</text>
<text x="712" y="359.8" text-anchor="middle">(2001)</text>
<text x="746.8" y="355.6" text-anchor="middle">Bend It Like Beckham</text>
<text x="746.8" y="359.8" text-anchor="middle">(2002)</text>
<text x="204.6" y="386.9" text-anchor="end">Dr. Strangelove</text>
<text x="204.6" y="391.1" text-anchor="end">(1964)</text>
<text x="272.8" y="386.9" text-anchor="end">M*A*S*H</text>
<text x="272.8" y="391.1" text-anchor="end">(1970)</text>
<text x="300.3" y="402.9" text-anchor="middle">Blazing Saddles</text>
<text x="300.3" y="407.1" text-anchor="middle">(1974)</text>
<text x="374" y="402">The Blues</text>
<text x="374" y="406.2">Brothers</text>
<text x="374" y="410.4">(1980)</text>
<text x="391.2" y="380.5" text-anchor="end">The</text>
<text x="391.2" y="384.7" text-anchor="end">Cannonball</text>
<text x="391.2" y="388.9" text-anchor="end">Run</text>
<text x="391.2" y="393.1" text-anchor="end">(1981)</text>
<text x="451.6" y="401.7">Three Amigos</text>
<text x="451.6" y="405.9">(1986)</text>
<text x="634.4" y="440.9" text-anchor="middle">Groundhog Day</text>
<text x="634.4" y="445.1" text-anchor="middle">(1993)</text>
<text x="868.4" y="404.2">Midnight in Paris</text>
<text x="868.4" y="408.4">(2011)</text>
<text x="868.4" y="434.7">The Lobster</text>
<text x="868.4" y="438.9">(2015)</text>
<text x="854.8" y="448" text-anchor="end">The Nice Guys</text>
<text x="854.8" y="452.2" text-anchor="end">(2016)</text>
<text x="901.7" y="466.6" text-anchor="middle">Booksmart</text>
<text x="901.7" y="470.8" text-anchor="middle">(2019)</text>
<text x="879.9" y="465.2" text-anchor="middle">I, Tonya</text>
<text x="879.9" y="469.4" text-anchor="middle">(2017)</text>
<text x="925.6" y="452.3">Everything</text>
<text x="925.6" y="456.5">Everywhere All</text>
<text x="925.6" y="460.7">at Once</text>
<text x="925.6" y="464.9">(2022)</text>
<text x="813.5" y="361">Million Dollar Baby</text>
<text x="813.5" y="365.2">(2004)</text>
<text x="829.7" y="344.7">The</text>
<text x="829.7" y="348.9">Wrestler</text>
<text x="829.7" y="353.1">(2008)</text>
<text x="843.5" y="330.8">The Damned United</text>
<text x="843.5" y="335">(2009)</text>
<text x="856.7" y="317.4">The Fighter</text>
<text x="856.7" y="321.6">(2010)</text>
<text x="869.8" y="304.2">Senna</text>
<text x="869.8" y="308.4">(2010)</text>
<text x="881.2" y="292.7">Rush</text>
<text x="881.2" y="296.9">(2013)</text>
<text x="892.6" y="281.2">Creed</text>
<text x="892.6" y="285.4">(2015)</text>
<text x="918.8" y="254.7">Ford v Ferrari</text>
<text x="918.8" y="258.9">(2019)</text>
<text x="921" y="232.7" text-anchor="end">King Richard</text>
<text x="921" y="236.9" text-anchor="end">(2021)</text>
</g>
<g>
<path d="M92 638.4 Q97 632 101 631.4 L166.5 631.4 Q171 632 175.5 638.4 L175.5 659.6 Q171 666 166.5 666.7 L101 666.7 Q97 666 92 659.6 Z" fill="#0b0b0b"/>
<rect x="65.2" y="637.8" width="136.6" height="22.3" rx="11.1" fill="#0b0b0b"/>
<rect x="66.5" y="639.1" width="134" height="19.7" rx="9.8" fill="none" stroke="#d8d6d0" stroke-width="0.55"/>
<text x="133.7" y="653.6" text-anchor="middle" font-family="'Liberation Sans', sans-serif" font-size="11.3" fill="#eeece6" textLength="119" lengthAdjust="spacingAndGlyphs">CINEMATIC RAILWAYS</text>
</g>
<rect x="699" y="664" width="246" height="86" fill="#f9f7f0"/>
<path d="M699.5 666.3H944M699.5 747.4H944" stroke="#b9b8b4" stroke-width="0.9" fill="none"/>
<text x="705.2" y="677.4" font-family="'Liberation Sans', sans-serif" font-weight="bold" font-size="7.1" fill="#222">Key to lines</text>
<g font-family="'Liberation Sans', sans-serif" font-size="4.3" fill="#1a3482" stroke="#1a3482" stroke-width="0.16" text-rendering="geometricPrecision">
<path d="M752.7 685.1H820.3" stroke="#e0241c" stroke-width="3"/>
<text x="721.6" y="686.6">Comedy</text>
<path d="M752.7 695.4H820.3" stroke="#1b2e66" stroke-width="3"/>
<text x="721.6" y="696.9">Science Fiction</text>
<path d="M752.7 705.7H820.3" stroke="#ffcb05" stroke-width="3"/>
<text x="721.6" y="707.2">Animation</text>
<path d="M752.7 715.9H820.3" stroke="#8b1a5e" stroke-width="3"/>
<text x="721.6" y="717.4">Musical</text>
<path d="M752.7 726.2H820.3" stroke="#ee7524" stroke-width="3"/>
<text x="721.6" y="725.6">Action &amp;</text>
<text x="721.6" y="731">Adventure</text>
<path d="M868.4 685.1H935.9" stroke="#ed91a8" stroke-width="3"/>
<text x="836.8" y="686.6">Sport</text>
<path d="M868.4 695.4H935.9" stroke="#b9660f" stroke-width="3"/>
<text x="836.8" y="696.9">Western</text>
<path d="M868.4 705.7H935.9" stroke="#0099d8" stroke-width="3"/>
<text x="836.8" y="707.2">Romance</text>
<path d="M868.4 715.9H935.9" stroke="#80898c" stroke-width="3"/>
<text x="836.8" y="717.4">Horror</text>
<path d="M868.4 726.2H935.9" stroke="#00833e" stroke-width="3"/>
<text x="836.8" y="727.7">War</text>
<path d="M868.4 736.5H935.9" stroke="#1c1b1a" stroke-width="3"/>
<text x="836.8" y="735.9">Crime &amp;</text>
<text x="836.8" y="741.3">Mystery</text>
</g>
<g font-family="'Liberation Sans', sans-serif" font-size="2.85" fill="#333" stroke="#333" stroke-width="0.06" text-rendering="geometricPrecision"><text x="49.8" y="769.6" textLength="72.4" lengthAdjust="spacingAndGlyphs">PUBLISHED BY THE CINEMATIC RAILWAY COMPANY</text><text x="949.6" y="769.6" text-anchor="end" textLength="98.6" lengthAdjust="spacingAndGlyphs">PROUDLY DESIGNED, PRINTED AND FRAMED IN THE UNITED KINGDOM</text></g>
</svg>
</body></html>
